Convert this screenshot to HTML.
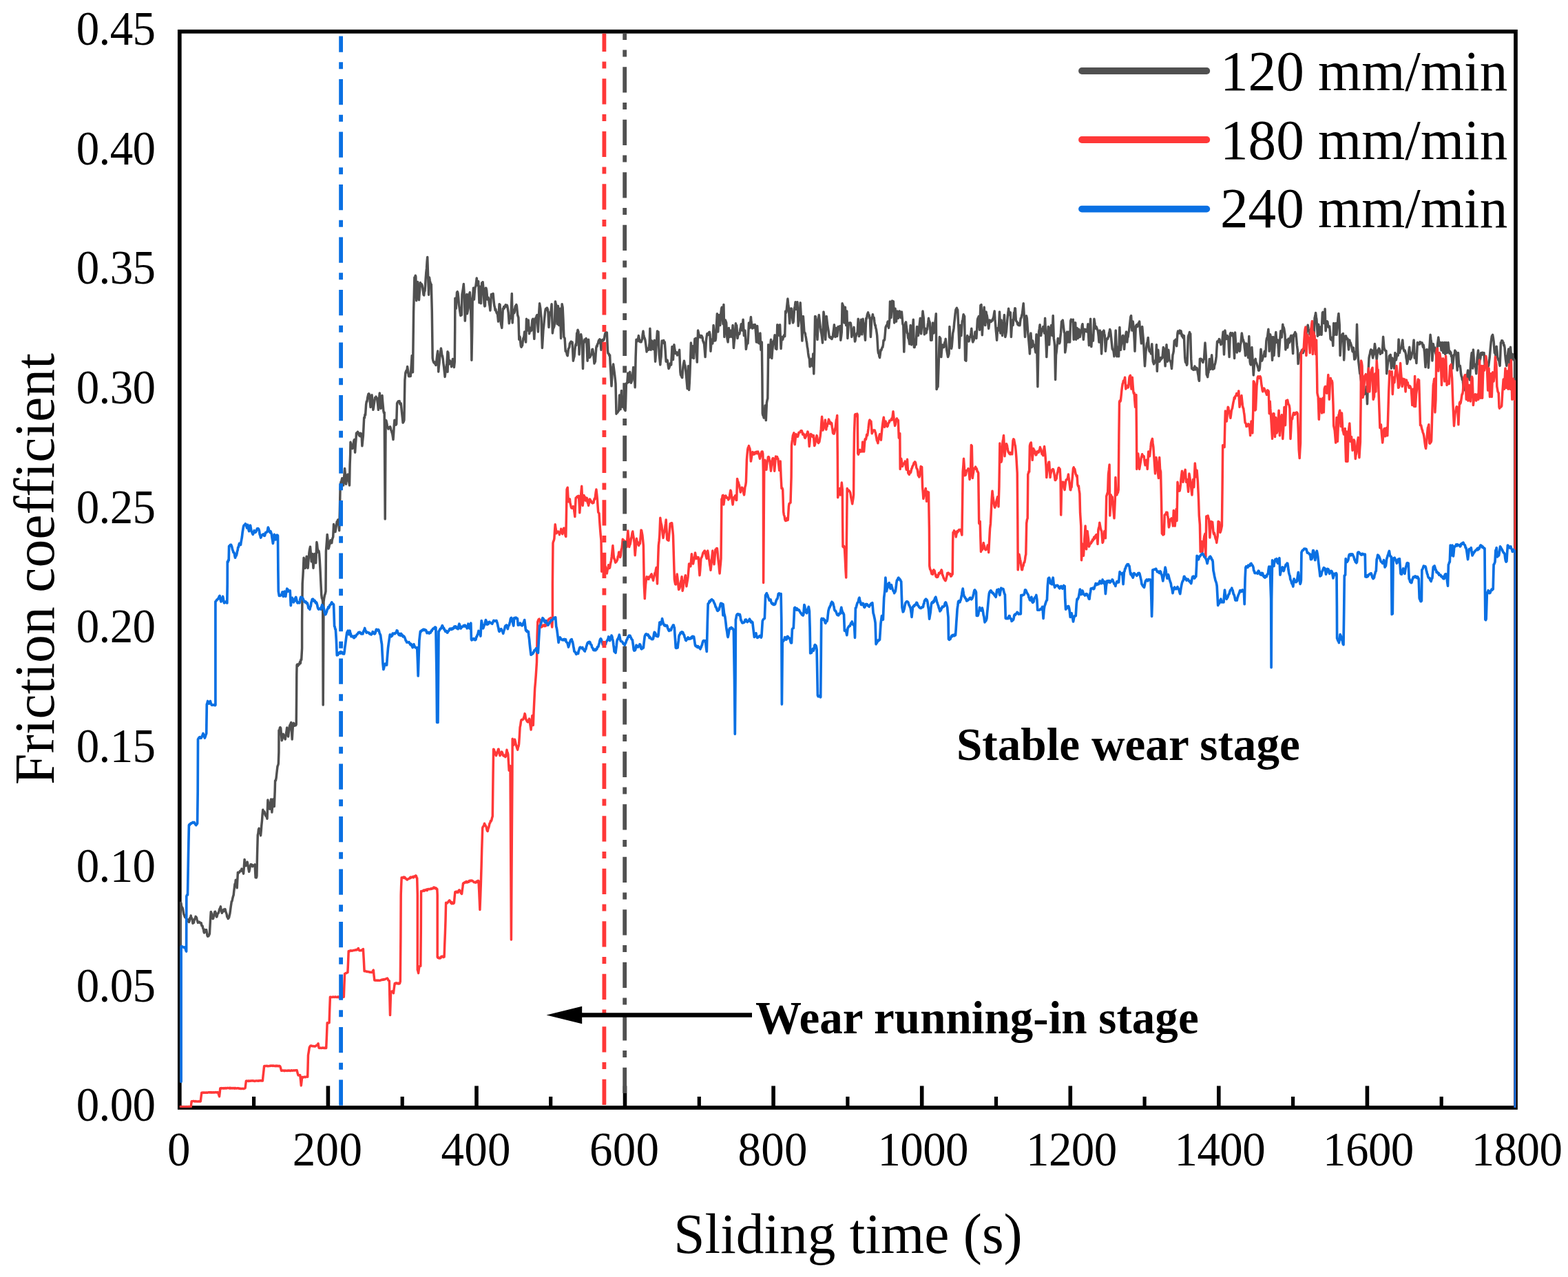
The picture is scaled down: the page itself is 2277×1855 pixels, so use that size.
<!DOCTYPE html>
<html lang="en"><head><meta charset="utf-8"><title>Friction coefficient vs sliding time</title>
<style>html,body{margin:0;padding:0;background:#fff}svg{display:block}text{font-family:"Liberation Serif","Times New Roman",serif;fill:#000}</style></head><body>
<svg width="2277" height="1855" viewBox="0 0 2277 1855">
<rect x="0" y="0" width="2277" height="1855" fill="#ffffff"/>
<defs><clipPath id="plotclip"><rect x="260.8" y="45.8" width="1940.5" height="1563.2"/></clipPath></defs>
<line x1="368.6" y1="1593" x2="368.6" y2="1609" stroke="#000" stroke-width="5.2"/>
<line x1="476.4" y1="1577.4" x2="476.4" y2="1609" stroke="#000" stroke-width="5.6"/>
<line x1="584.2" y1="1593" x2="584.2" y2="1609" stroke="#000" stroke-width="5.2"/>
<line x1="692.0" y1="1577.4" x2="692.0" y2="1609" stroke="#000" stroke-width="5.6"/>
<line x1="799.7" y1="1593" x2="799.7" y2="1609" stroke="#000" stroke-width="5.2"/>
<line x1="907.5" y1="1577.4" x2="907.5" y2="1609" stroke="#000" stroke-width="5.6"/>
<line x1="1015.3" y1="1593" x2="1015.3" y2="1609" stroke="#000" stroke-width="5.2"/>
<line x1="1123.1" y1="1577.4" x2="1123.1" y2="1609" stroke="#000" stroke-width="5.6"/>
<line x1="1230.9" y1="1593" x2="1230.9" y2="1609" stroke="#000" stroke-width="5.2"/>
<line x1="1338.7" y1="1577.4" x2="1338.7" y2="1609" stroke="#000" stroke-width="5.6"/>
<line x1="1446.5" y1="1593" x2="1446.5" y2="1609" stroke="#000" stroke-width="5.2"/>
<line x1="1554.3" y1="1577.4" x2="1554.3" y2="1609" stroke="#000" stroke-width="5.6"/>
<line x1="1662.1" y1="1593" x2="1662.1" y2="1609" stroke="#000" stroke-width="5.2"/>
<line x1="1769.8" y1="1577.4" x2="1769.8" y2="1609" stroke="#000" stroke-width="5.6"/>
<line x1="1877.6" y1="1593" x2="1877.6" y2="1609" stroke="#000" stroke-width="5.2"/>
<line x1="1985.4" y1="1577.4" x2="1985.4" y2="1609" stroke="#000" stroke-width="5.6"/>
<line x1="2093.2" y1="1593" x2="2093.2" y2="1609" stroke="#000" stroke-width="5.2"/>
<rect x="260.8" y="45.8" width="1940.2" height="1563.2" fill="none" stroke="#000" stroke-width="5.7"/>
<path clip-path="url(#plotclip)" d="M262.2,1571.2 262.2,1311.3 262.9,1311.7 263.6,1316.4 264.3,1317.9 265,1318.8 265.6,1320.9 266.3,1325 266.9,1328.2 267.5,1329 268.1,1331 268.8,1332.6 269.4,1330.9 270,1331.7 270.6,1334.7 271.3,1336.9 271.9,1336 272.5,1338.1 273.2,1335.9 273.8,1338.4 274.4,1339.4 275.1,1338 275.8,1333.6 276.5,1334.2 277.2,1330 277.9,1334.5 278.6,1333.8 279.3,1336.6 280,1341.3 280.7,1340.1 281.4,1340.4 282,1336.8 282.7,1334.8 283.4,1334.3 284.1,1331.4 284.7,1331.9 285.4,1332.9 286.1,1335.9 286.8,1338.2 287.5,1340.4 288.2,1339.3 288.9,1339.3 289.7,1339.2 290.4,1340.4 291,1341 291.6,1341.1 292.2,1340.8 292.9,1344.8 293.5,1344.5 294.1,1345 294.7,1348.4 295.4,1349.4 296,1353.5 296.6,1355 297.2,1354 297.9,1350.6 298.5,1350.9 299.1,1352 299.7,1350.7 300.4,1354.7 301,1358.9 301.6,1360.1 302.3,1358.8 303,1359.6 303.7,1358 304.4,1356.3 305.4,1337.5 306.3,1324.4 307,1326.1 307.7,1329.9 308.4,1333.8 309.1,1334.7 309.8,1333.7 310.5,1329.6 311.2,1327.4 311.9,1324.4 312.6,1324.2 313.4,1327 314.1,1331.3 314.8,1331.9 315.4,1329.9 316,1327.1 316.6,1327.1 317.3,1326.1 317.9,1324.3 318.5,1321.3 319.1,1320 319.8,1318.6 320.4,1316.9 321,1321.2 321.6,1323.2 322.3,1326.3 322.9,1325 323.6,1324.6 324.3,1321.8 324.9,1321.1 325.6,1323.2 326.3,1323.6 327,1320.6 327.7,1323.9 328.4,1325.8 329.1,1327.6 329.8,1331.9 330.5,1332.2 331.2,1334.5 331.9,1333.8 332.6,1332.8 333.2,1329.6 333.8,1327.6 334.5,1322.5 335.1,1317.7 335.7,1313.8 336.3,1309.4 337,1309 337.8,1305 338.5,1302.2 339.2,1300 339.2,1300 339.8,1294.3 340.4,1289.5 341,1284.1 341.7,1284.2 342.3,1278.2 342.9,1278.5 343.6,1284.6 344.2,1289.7 345.4,1267.2 346,1268.2 346.6,1268.1 347.3,1267.1 347.9,1267 348.5,1265.3 349.2,1265.1 349.8,1265 350.4,1264 351,1262.1 351.7,1265.4 352.3,1263.4 353,1266.6 353.6,1269.1 354.4,1258.2 355.1,1248.4 355.7,1251.6 356.4,1254.6 357,1257.8 357.7,1255.3 358.5,1253.4 359.2,1252.2 360.1,1257 360.9,1262.1 361.7,1266.3 362.3,1263.9 362.9,1260.4 363.6,1257.8 364.2,1255.6 364.8,1256.3 365.4,1255.9 366.1,1257.5 366.7,1258.6 367.3,1256.9 368,1257.9 368.7,1257.7 369.4,1257.6 370.1,1255.9 371.1,1274.7 371.7,1273 372.3,1274.9 372.9,1272.8 373.5,1242.8 374.3,1212.8 374.9,1210.4 375.5,1204.7 376.1,1203.4 377,1204.7 377.8,1208.1 378.6,1213.7 379.2,1206.9 379.8,1198.9 380.5,1192.1 381.1,1183.4 381.8,1176.2 382.4,1178.2 383.1,1178.5 383.8,1178.8 384.5,1180.7 385.1,1183.7 385.9,1185.2 386.6,1185 387.3,1186.9 388,1189.3 388.9,1162.1 389.6,1166.3 390.3,1168.4 391,1171.1 391.7,1175.2 392.3,1170.5 393,1165 393.6,1161.1 394.3,1170.3 394.9,1179.9 395.7,1170.4 396.4,1161.1 397,1163.2 397.7,1166.3 398.3,1171.5 399.2,1148.9 399.6,1133.9 400.4,1133.8 401.1,1130.2 401.7,1124.6 402.4,1118.4 403,1113.3 403.6,1111.9 404.3,1109.5 404.9,1092.6 405,1060.7 405.7,1061.4 406.4,1057.2 407,1056.5 407.7,1057.9 408.4,1066.2 409.2,1075.7 409.9,1073.6 410.7,1068 411.4,1066.3 412.1,1069.1 412.8,1070.9 413.5,1072.2 414.2,1073.9 415.1,1067.7 415.9,1063.4 416.7,1057 417.3,1061.9 417.9,1065.7 418.6,1070.1 419.2,1064.6 419.8,1060.3 420.4,1055.1 421.2,1052.7 421.9,1051.7 422.7,1049.5 423.4,1061.3 424.2,1073.9 424.8,1063.3 425.5,1052.3 426.2,1050.3 426.8,1051.4 427.5,1054.3 428.2,1053.9 428.9,1051.4 429.5,1053.8 430.2,1052.3 430.6,1010 430.8,980 430.8,980 431.1,966 431.8,965 432.4,967.6 433,966.6 433.6,965 434.3,964.1 434.9,965 435.6,961.2 436.3,963.4 437,958.1 437.7,958.5 438.6,941.6 438.6,904 439.2,847.7 439.9,837 440.5,825.2 441.1,810.2 441.8,816 442.6,820.3 443.3,825.2 444,819 444.6,814.6 445.2,808.3 445.8,814.8 446.5,819.9 447.1,825.2 447.7,817.7 448.3,809.9 449,802.7 449.7,797.8 450.5,794.2 451.1,800.9 451.7,808.9 452.3,815.8 453,810 453.7,804.5 454.3,814.3 455,825.2 455.6,817.6 456.2,811.7 456.9,804.5 457.5,808.6 458.1,813.3 458.7,817.7 459.9,787.6 460.5,790.6 461.1,796.8 461.7,798.9 462.4,802.5 463,800.5 463.6,804.5 464.3,814.3 464.9,825.2 465.5,838 466.2,852.3 466.8,864.6 467.4,869 468.1,870.1 468.7,874 469.2,1024.1 470,874 470.7,868.8 471.5,864.6 472.2,862.6 473,859 473.4,800.8 474,793.2 474.6,785.3 475.2,776.4 475.9,783 476.5,790.8 477.1,797 477.8,794.8 478.5,790.9 479.2,790 479.9,784.8 480.6,784.9 481.2,788.3 481.8,788.6 482.4,783.9 483.1,781.5 483.7,780.1 484.6,761.4 485.4,766.9 486.1,767.6 486.9,772.6 487.7,768.1 488.5,762.8 489.3,757.6 489.9,758.2 490.6,755.1 491.2,754.8 492,762.5 492.7,770.7 493.4,741.3 494,712.6 495,700.4 495.6,700.1 496.2,697.1 496.8,694.7 497.5,700.2 498.1,703.3 498.7,705 499.3,696.3 500,688.9 500.6,680.6 501.2,687.5 501.8,694.9 502.5,703.2 503.3,696.6 504.1,695.4 504.9,689.1 505.6,693.6 506.2,697.6 506.9,700.8 507.5,705 508.1,675 508.7,660 508.7,659.1 509,642.2 509.7,645.1 510.4,648.1 511.1,648.7 511.8,651.6 512.6,648.6 513.3,643.8 514,639.9 514.7,638.5 515.6,657.2 516.2,647.4 516.9,639.1 517.5,629.1 518.1,628.7 518.7,629.7 519.4,627.2 520.1,628.4 520.8,629 521.5,632.7 522.2,632.8 522.9,633.6 523.6,629.3 524.3,631.5 525,630 525.9,647.8 526.7,639.6 527.4,632.8 528.1,619 528.7,606.5 529.4,607 530,602 530.6,602.8 531.6,587.8 532.3,583.3 533,583.3 533.7,577.6 534.4,574.6 535,572.3 535.6,571.9 536.3,572.8 536.9,578.6 537.5,585.7 538.1,591.5 538.8,584.9 539.4,580.4 540,573.7 540.6,580.7 541.3,588.9 541.9,595.3 542.6,591.5 543.3,586 544,581.5 544.7,577.4 545.4,577.6 546.1,576.2 546.8,578.8 547.5,578.4 548.1,583.2 548.8,588.8 549.4,595.3 550,588 550.6,578.7 551.3,570.9 551.9,578.6 552.5,585.8 553.1,593.4 553.8,586.8 554.4,580.1 555,574.6 555.6,582.9 556.3,590.5 556.9,597.2 557.6,600.2 558.2,599 559.2,753.9 560.1,610.3 560.9,611.1 561.7,614.8 562.5,619.7 563.2,620.7 563.9,623.1 564.5,620.7 565.2,621.9 565.9,622 566.6,619.8 567.2,621.6 567.8,624.6 568.5,626 569.1,628.5 569.7,630.3 570.4,634.3 571,638.5 571.6,630.2 572.2,619.6 572.9,610.3 573.6,612.6 574.3,614 575,617.2 575.7,615.9 576.6,585.9 577.3,584.5 578,583.3 578.7,582.7 579.4,583.1 580.1,582.7 580.8,586.6 581.5,587.6 582.2,585.9 582.9,592.5 583.6,599.6 584.4,607.1 585.1,614 585.7,613.3 586.3,612.1 586.9,610.3 587.9,552.1 588.8,541.8 589.4,539.9 590.1,538.3 590.7,540.8 591.6,532.4 592.2,536.5 592.9,540.8 593.5,546.5 594.2,546.8 594.9,543.9 595.6,543.9 596.3,546.5 596.9,536.8 597.6,526 598.2,516.4 598.9,529.3 599.5,540.8 600.6,452.6 601.3,427.7 601.9,402.9 602.6,404.7 603.2,400.2 603.8,401.9 604.8,436.7 605.4,427.6 606,419.2 606.6,409.5 607.3,417.2 607.9,428 608.5,435.7 609.1,426.5 609.8,419.5 610.4,410.4 611.1,414.5 611.8,414.7 612.5,412.8 613.2,415.1 613.8,418.5 614.5,423.9 615.1,428.2 615.7,428.9 616.3,423.2 617,422.6 617.6,414.8 618.2,404.2 618.8,396.3 619.5,389.7 620.1,379.9 620.7,373.4 621.3,391.2 622,410.9 622.6,428.2 623.5,402.9 624.2,407.3 624.9,410.5 625.6,412.7 626.3,413.2 627.3,452.6 628.2,520.2 628.9,523.9 629.5,525.7 630.1,526.8 630.8,525.8 631.5,528.2 632.2,527.5 632.9,530.5 633.6,525.9 634.3,520.6 635,514.4 635.7,509.9 636.7,539.9 637.3,532.3 637.9,527.9 638.5,520.2 639.2,516.2 639.8,510.9 640.4,506.1 641.1,510.1 641.8,515.7 642.5,517.1 643.2,521.1 643.9,527.5 644.7,533.9 645.4,540.3 646.1,547.4 646.8,541.3 647.5,537.9 648.2,532.4 648.9,527.7 650,510.8 650,540.2 650.9,512 651.9,528.9 652.5,528.1 653.1,523.8 653.8,525.2 654.4,526.8 655,528 655.6,532.7 656.3,528 656.9,524.6 657.5,521.4 658.1,526.3 658.8,529.3 659.4,533.6 660.3,525.2 660.7,478.3 660.9,433.2 661.5,440.5 662.2,448.2 662.9,436.8 663.5,424.8 664.3,423.6 665,425.7 665.8,433 666.5,442.6 667.2,447.4 667.8,452 668.8,458.5 669.5,458.1 670.3,457.6 671,427.6 672.1,421.9 673.3,412.6 674.4,431.3 675.3,466.1 676,452.8 676.7,438.8 677.8,427.6 678.5,455.7 679.3,451.6 680,448.2 681,427.6 681.6,427.3 682.3,424.8 683.4,438.8 684.4,480.1 684.9,523.3 685.7,480.1 686.2,437 686.9,428.1 687.5,418.2 688.5,435.1 689.1,426 689.8,418.2 690.9,415.4 691.6,409.7 692.2,404.1 692.9,409.2 693.5,414.4 694.7,408.8 695.3,423.6 696,439.8 696.9,416.3 697.7,428.3 698.4,440.7 699.1,425.8 699.7,410.7 700.4,412.7 701.1,409.7 702.2,421.9 703.1,440.7 703.8,445.1 704.4,444.5 705.4,418.2 706,418.7 706.7,421.9 707.8,435.1 708.5,434.6 709.1,432.3 709.8,435.4 710.4,440.7 711.2,444.8 711.9,451 712.7,439.3 713.4,427.6 714.1,431.7 714.8,431.3 715.4,426.9 716.1,426.6 717.2,438.8 717.9,444.2 718.5,446.3 719.1,450.5 719.8,449 720.4,452 721,453.8 721.6,455.3 722.3,453.9 722.9,460.1 723.6,467 724.3,454.8 725.1,441.7 726,442.6 726.7,456.3 727.3,468.9 728.1,473.2 728.8,476.4 729.6,463.2 730.3,448.2 731,449.2 731.7,445.4 732.3,447.9 732.9,445.2 733.5,444.5 734.2,442.8 734.8,443.6 735.4,445.4 736.1,443.2 736.7,444.5 737.5,449.3 738.2,453.9 739.3,469.8 740.5,459.5 741.2,462.4 742,462.3 742.6,443.4 743.3,426.6 744.2,468.9 745.4,450.1 746,453.5 746.7,454.8 747.3,452.7 747.9,447 748.5,444.5 749.2,444.6 749.8,442.5 750.4,444.5 751.1,451.6 751.7,457.6 752.9,461.4 753.8,493.3 754.5,488.6 755.1,489.5 755.8,497.2 756.4,502.7 757.1,504.2 757.8,502.8 758.5,501.7 759.2,496 759.8,491.4 760.4,490.7 761.1,487.9 761.7,482 762.3,486.1 762.9,492.7 763.6,497 764.5,463.2 765.3,472.5 766,480.1 766.7,473 767.3,465.1 768,475.5 768.6,484.8 769.4,480.3 770.1,476.4 770.9,480.8 771.6,480.1 772.3,473.8 772.9,465.1 773.6,463.5 774.3,463.2 775,478.5 775.8,492.3 776.5,478.6 777.3,465.1 777.9,461.7 778.6,462.3 779.2,458.9 779.9,457.6 780.6,468.9 781.4,482 782.5,457.6 783.6,440.7 784.8,448.2 785.4,455.8 786.1,461.4 786.7,484.5 787.4,505.5 788.2,491.9 788.9,480.1 789.7,472.9 790.4,465.1 791.1,458.3 791.7,452 792.4,448.7 793,450.1 793.8,447.5 794.5,447.3 795.3,449.1 796,453.9 797,475.4 797.6,466.2 798.3,455.7 798.9,453.7 799.6,457.6 800.4,448.9 801.1,441.7 801.8,462.6 802.4,483.9 803.2,477.3 803.9,476.4 804.7,474.3 805.4,470.7 806.4,437.9 807,440.9 807.7,442.6 808.4,457.5 809.2,470.7 809.8,456.9 810.5,444.5 811.1,458 811.8,472.6 812.6,460.5 813.3,448.2 814,469.3 814.6,491.4 815.4,466.7 816.1,441.7 817.1,446.3 818,465.1 818.9,489.5 820.1,491.4 821.2,510.2 821.9,509.6 822.7,512 823.4,515.5 824.2,516.7 824.8,512.3 825.5,506.4 826.1,505.8 826.8,504.2 827.4,498.9 828,498.2 828.6,497 829.3,496.1 829.9,498.5 830.5,498.3 831.1,497 831.8,510.8 832.4,524.2 833.2,520.3 834,517.7 834.7,509.6 835.5,502.7 836.1,499.8 836.8,501.7 837.7,483.9 838.4,483.4 839,479.2 840,482 841.1,514.9 841.7,501.3 842.4,489.5 843.1,489.1 843.7,485.8 844.5,490.6 845.2,495.1 845.9,516.4 846.5,535.5 847.5,498.9 848.2,497.7 849,493.3 849.7,495.6 850.5,492.3 851.1,491.6 851.8,495.1 852.4,509.7 853.1,524.2 853.8,508.9 854.6,493.3 855.3,506 855.9,519.5 856.7,518.6 857.4,517.7 858,515.6 858.7,515.3 859.3,513.9 859.9,507.6 860.6,507.3 861.7,513.9 862.4,520.8 863,528 863.7,526.3 864.4,525.2 865.1,514.4 865.9,504.5 866.5,502.4 867.1,503.1 867.7,499.8 868.4,499.1 869,496 869.6,494.2 870.2,494.8 870.9,492.8 871.5,493.3 872.2,500.1 873,508.3 873.7,500.5 874.3,495.1 874.9,493.5 875.6,495.1 876.2,494.2 876.9,493.9 877.6,491 878.3,486.5 879,483.9 879.8,486.5 880.5,483 881.3,482.9 882.4,508.3 883,513.1 883.7,513.9 884.3,514 884.9,516.6 885.6,515.8 886.2,529.2 886.9,540.2 888,560.8 888.7,549.1 889.3,538.3 890,532.8 890.6,528.9 891.4,534.9 892.1,540.2 892.8,545.9 893.4,551.1 894,557.1 895,601.2 895.6,597.6 896.2,599.3 896.8,599.3 897.5,597.9 898.1,596.9 898.7,596.5 899.6,574 900.3,585.2 901,594.6 901.7,581.2 902.5,567.4 903.1,579.7 903.8,590.9 904.5,584.3 905.3,575.9 906,585.8 906.8,594.6 907.4,595.5 908.1,596.5 908.8,577.4 909.4,557.1 910.2,557 910.9,555.2 911.8,542.1 912.5,549 913.2,555.2 913.9,548 914.7,540.2 915.3,545.3 915.9,551.1 916.5,556.2 917.2,554.1 917.8,553.1 918.4,547.7 919.1,541.3 919.7,533.6 920.5,539.6 921.2,544 922.2,562.7 923.1,519.5 924,493.3 924.7,495.2 925.3,495.8 925.9,494.2 926.7,491.6 927.4,487.6 928.1,491.5 928.7,496.1 929.4,494.4 930,496.7 930.6,495.1 931.2,496.8 931.9,494.2 932.5,493.3 933.2,486.3 934,481.1 934.7,486.1 935.3,489.5 936.1,491.3 936.8,493.3 937.5,497.9 938.1,502.7 939.1,511.1 939.8,506 940.6,506.4 941.2,507.4 941.9,508.3 942.5,503.7 943.2,498 943.9,477.3 945.1,508.3 945.8,501.5 946.6,495.1 947.2,498.9 947.8,503.7 948.5,507.3 949.1,501.8 949.7,498.6 950.3,494.2 951,510.8 951.6,525.2 952.4,514.4 953.1,502.7 953.8,491.6 954.5,481.1 955.2,482.7 956,482 956.6,499.2 957.3,515.8 958,522.1 958.8,529.9 959.4,523.1 960.1,517.7 961.2,495.1 961.8,498.1 962.5,495 963.1,497 963.8,494.5 964.6,499 965.3,497 966,506.5 966.6,515.5 967.2,525.2 967.8,524.6 968.5,525.3 969.1,523.3 969.7,526.6 970.4,531.8 971,535.5 971.6,534.6 972.2,533 972.9,528.9 973.5,527.9 974.1,530.2 974.7,529.9 975.4,516.1 976,503.6 976.8,513.1 977.5,522.4 978.2,510.8 978.9,500.8 979.6,506.2 980.4,510.2 981,513.6 981.6,511.6 982.2,513.9 982.9,511.9 983.5,516.1 984.1,513 984.9,512.7 985.7,511.9 986.6,508.3 987.2,523.1 987.9,540.2 988.5,544.9 989.2,544.9 989.9,547.5 990.7,548.6 991.3,540.2 992,532.7 992.7,528.1 993.5,524.2 994.3,529.1 995,530.8 995.7,538.1 996.3,544 996.9,550.1 997.6,558 998.2,564.6 998.9,547.4 999.5,531.8 1000.6,566.5 1001.3,555.4 1001.9,542.1 1002.7,519.9 1003.4,498 1004.1,509.7 1004.8,519.5 1005.4,511.7 1006.1,502.7 1006.8,511.8 1007.6,520.5 1008.2,505.8 1008.9,492.3 1009.6,492 1010.4,491.4 1011,502.1 1011.6,513.7 1012.3,526.1 1012.9,503.6 1013.6,480.1 1014.3,483.1 1015.1,487.6 1015.7,489.8 1016.3,487.3 1017,489.5 1017.6,490.2 1018.2,489.6 1018.8,487.6 1019.5,489 1020.1,490.3 1020.7,495.1 1021.3,496.1 1022,498.2 1022.6,499.8 1023.3,508.3 1024.1,518.6 1024.8,506.1 1025.4,495.1 1026.2,488.9 1026.9,484.8 1027.5,485.1 1028.2,486.5 1028.8,483.9 1029.5,482.8 1030.3,482.3 1031,485.8 1032,510.2 1032.6,502.2 1033.3,493.3 1034,498 1034.8,498.9 1035.5,486.9 1036.1,472.6 1036.9,484.2 1037.6,495.1 1038.2,493 1038.9,494.7 1039.5,491.4 1040.1,478.6 1040.7,468.1 1041.4,455.7 1042,467.9 1042.7,482 1043.4,469.6 1044.2,457.6 1044.9,465.1 1045.7,472.6 1046.3,462.9 1047,453.9 1047.7,448.1 1048.3,446.3 1049.2,457.9 1050,470.7 1050,470.7 1050.9,442.6 1051.9,489.5 1052.6,478.1 1053.4,465.1 1054,466.8 1054.7,468.9 1055.3,480.3 1056,491.4 1057.1,497 1057.8,486 1058.4,476.4 1059.1,483.5 1059.8,489.5 1060.5,484.4 1061.3,480.1 1062,485 1062.8,489.5 1063.4,482.1 1064.1,472.6 1064.7,490.2 1065.4,505.5 1066.1,497.3 1066.9,491.4 1067.6,481.3 1068.4,469.8 1069.1,473.4 1069.7,472.6 1070.4,481.6 1071,491.4 1071.8,486.9 1072.5,483.9 1073.2,483.7 1073.8,485.1 1074.4,482 1075,478 1075.7,475.4 1076.3,470.7 1077,476.1 1077.8,480.1 1078.4,471.3 1079.1,464.2 1079.8,476.9 1080.4,487.6 1081.2,481 1081.9,480.1 1082.7,492.9 1083.4,507.3 1084.1,502.6 1084.7,497 1085.4,495.3 1086,498.9 1086.8,483.6 1087.5,468.9 1088.2,470.4 1088.9,476.4 1089.6,468.3 1090.4,460.4 1091,467.3 1091.7,472.6 1092.4,476.9 1093.2,476.4 1093.8,472.7 1094.4,471.9 1095,473.6 1095.7,475.9 1096.3,471.4 1096.9,474.5 1097.7,485.2 1098.4,497 1099.1,484.4 1099.7,473.6 1100.4,484.8 1101.1,498 1101.8,495.6 1102.6,498.9 1103.2,491.7 1103.9,483.9 1105,508.3 1105.7,503.2 1106.3,497 1106.9,547.7 1107.3,600.3 1107.9,603.3 1108.6,604 1109.3,607 1110.1,605.9 1111,589 1111.7,600.2 1112.3,610.6 1113.4,585.2 1114.1,581.3 1114.8,578.7 1115.3,540.2 1115.7,500.8 1116.4,510.5 1117.2,519.5 1117.9,513.2 1118.5,504.5 1119.5,493.3 1120.1,507.2 1120.8,520.5 1121.5,511 1122.3,502.7 1122.9,496.3 1123.6,495.1 1124.3,493.5 1125.1,486.7 1125.7,496.8 1126.4,506.4 1127.1,506 1127.9,507.3 1128.8,471.7 1129.6,472.8 1130.3,472.6 1131,480.3 1131.7,487.6 1132.6,471.7 1133.3,489.1 1134.1,506.4 1134.7,496.9 1135.4,489.5 1136.1,490.5 1136.7,493.3 1137.5,489.9 1138.2,487.6 1139,486.3 1139.7,488.6 1140.7,452 1141.3,454.7 1142,452.9 1142.6,446.5 1143.2,440.8 1143.9,434.1 1144.6,441.2 1145.4,447.3 1146,459.1 1146.7,469.8 1147.3,459.5 1148,448.2 1148.7,449.7 1149.5,448.2 1150.2,456.1 1151,465.1 1151.6,468.9 1152.3,467 1153,456.8 1153.6,448.2 1154.4,444.5 1155.1,438.8 1155.8,444.8 1156.4,449.2 1157.2,444.8 1157.9,438.8 1158.6,455.1 1159.2,473.6 1160,466.5 1160.7,461.4 1161.5,451.3 1162.2,439.8 1162.9,452.4 1163.6,465.1 1164.2,479.8 1164.9,495.1 1165.6,478.5 1166.4,459.5 1167.1,469.6 1167.9,482 1168.5,483.1 1169.2,483.9 1169.8,487.5 1170.4,490.5 1171.1,495.1 1171.7,498.3 1172.3,503.9 1172.9,506.4 1173.6,513 1174.3,517.7 1175.4,521.4 1176.1,532.7 1177.3,528.9 1177.9,522.3 1178.6,521.4 1179.2,526.6 1179.9,531.8 1180.8,513.9 1181.8,543 1182.7,510.2 1183.6,459.5 1184.4,459.8 1185.1,465.1 1185.8,475.2 1186.4,482.9 1187,493.3 1187.7,478.1 1188.3,465.1 1189.3,457.6 1190,463.9 1190.8,470.7 1191.5,476.9 1192.3,482 1192.9,484.6 1193.6,489.5 1194.5,498 1195.3,474.6 1196,452.9 1196.7,458.3 1197.3,462.3 1198,478.5 1198.7,493.3 1199.4,477.2 1200.2,459.5 1200.9,465.6 1201.7,472.6 1202.3,475.9 1203,480.1 1203.6,484.2 1204.3,489.5 1205.1,490.5 1205.9,489.7 1206.7,491.4 1207.4,490.1 1208,492.5 1208.6,490.5 1209.2,489.8 1209.9,484.1 1210.5,480.1 1211.4,471.7 1212.2,479.7 1212.9,489.5 1213.6,483.3 1214.2,476.4 1214.9,482.4 1215.6,488.6 1216.3,482.7 1217.1,474.5 1217.7,475.8 1218.3,476.5 1218.9,474.5 1219.9,473.6 1220.8,494.2 1221.6,488.6 1222.3,482 1223.1,440.7 1223.8,442.8 1224.6,444.5 1225.3,457.6 1226.1,468.9 1226.7,458.4 1227.4,446.3 1228,459 1228.7,472.6 1229.8,452 1230.9,491.4 1232.1,472.6 1232.7,469.3 1233.3,469.3 1234,468.9 1234.6,470.2 1235.2,469 1235.8,472.6 1236.8,489.5 1237.4,486.7 1238,486.2 1238.6,483.9 1239.3,478.6 1240,475.4 1240.7,486.5 1241.5,496.1 1242.1,494.2 1242.7,489.3 1243.3,487.6 1244,484.9 1244.6,483.6 1245.2,482.9 1246.2,463.2 1246.8,475.5 1247.5,488.6 1248.2,486.8 1249,482 1249.6,473.1 1250.3,464.2 1251,475 1251.8,485.8 1252.4,473.7 1253.1,463.2 1253.8,468.9 1254.6,472.6 1255.2,479.4 1255.9,486.6 1256.5,494.2 1257.1,477.2 1257.8,462.3 1258.5,462.8 1259.3,457.6 1259.9,455.6 1260.6,453.9 1261.4,458.2 1262.1,457.6 1262.8,462.5 1263.4,462.3 1264.4,489.5 1265.1,476.6 1265.9,461.4 1266.6,460.9 1267.4,456.7 1268,460.8 1268.6,462.3 1269.2,461.4 1269.9,467.7 1270.6,472.6 1271.2,472.3 1271.8,476.5 1272.4,478.3 1273.1,483.1 1273.7,487.6 1274.9,508.3 1275.5,513.1 1276.2,512 1276.8,517.5 1277.5,519.5 1278.2,514.4 1279,508.3 1279.8,508.8 1280.5,506.4 1281.2,504.6 1281.8,504.5 1282.5,500.4 1283.1,494.2 1283.9,494.6 1284.6,493.3 1285.4,484.1 1286.1,475.4 1286.8,473.8 1287.4,472.6 1288.1,473.6 1288.7,469.1 1289.3,467 1290,470.9 1290.6,476.4 1291.8,465.1 1292.5,437.9 1293.3,448.8 1294,461.4 1294.8,449.6 1295.5,437 1296.1,437.6 1296.8,440 1297.4,437.9 1298.1,452.6 1298.7,468.9 1299.4,458.3 1300,448.2 1300.8,458.2 1301.5,467 1302.3,458.4 1303,452 1303.7,456.2 1304.3,462.3 1305,459.1 1305.6,454 1306.2,452 1306.8,452.7 1307.5,456.8 1308.1,461.4 1308.8,457.5 1309.4,452.9 1310.2,461.9 1310.9,470.7 1311.8,472.6 1312.8,511.1 1313.4,492.3 1314.1,475.4 1314.9,469.1 1315.6,467.9 1316.2,474.1 1316.9,478.9 1317.5,483.9 1318.1,484.4 1318.7,491.1 1319.4,491.4 1320,494.5 1320.7,499.8 1321.4,485.9 1322.2,472.6 1322.9,487.5 1323.7,500.8 1324.3,494.7 1325,487.6 1325.6,475.4 1326.3,464.2 1327.4,504.5 1328.1,504.5 1328.7,499.8 1329.4,500.9 1330.1,500.8 1330.8,488.5 1331.6,474.5 1332.2,479.8 1332.8,483.1 1333.4,487.6 1334.2,481.5 1334.9,474.5 1335.6,468.5 1336.3,462.3 1336.9,474.6 1337.6,484.8 1338.7,472.6 1339.3,463 1340,452 1340.7,457.7 1341.3,462.3 1342.4,485.8 1343.1,482.3 1343.8,477.3 1344.4,483.6 1345.1,483.9 1345.8,479.6 1346.6,478.3 1347.2,472.2 1347.8,468.2 1348.5,462.3 1349.1,466.1 1349.7,466.8 1350.3,468.9 1351,481.5 1351.6,494.2 1352.4,493.6 1353.1,494.2 1353.8,482.5 1354.5,468.9 1355.2,477.1 1356,483.9 1356.6,479.1 1357.2,472.8 1357.8,468.9 1358.6,463.1 1359.3,455.7 1359.7,510.2 1360.1,565.5 1360.7,564 1361.3,561.2 1362,561.8 1363.1,528.9 1363.7,508.7 1364.4,489.5 1365.1,491.6 1365.7,491.4 1366.8,518.6 1367.5,509.4 1368.2,502.7 1368.8,501 1369.4,502.7 1370,504.5 1370.7,504.4 1371.3,501 1371.9,497 1372.6,497.5 1373.2,492.3 1374,500.4 1374.7,508.3 1375.4,512.2 1376,515.5 1376.6,518.6 1377.4,516.4 1378.1,513.9 1378.9,474.5 1379.6,489.1 1380.4,503.6 1381,505.5 1381.6,506.3 1382.2,503.6 1383,493.5 1383.7,483.9 1384.4,480.9 1385.1,476.4 1385.7,469.3 1386.4,463.2 1387.1,456.2 1387.9,450.1 1388.6,448.7 1389.4,447.3 1390,449.2 1390.7,450.1 1391.3,463.4 1392,476.4 1393.1,505.5 1393.8,490.2 1394.4,472.6 1395.2,479.3 1395.9,487.6 1396.6,477.2 1397.3,466.1 1397.9,465.9 1398.5,461.2 1399.1,456.7 1399.9,458.5 1400.6,459.5 1401.6,523.3 1402.2,523 1402.9,524.2 1403.8,497 1404.8,487.6 1405.5,490.8 1406.3,495.1 1406.9,495.9 1407.5,493.8 1408.1,489.5 1408.8,489.6 1409.5,487.6 1410.1,483.4 1410.8,477.3 1411.5,487.3 1412.3,495.1 1412.9,496.9 1413.5,493.8 1414.1,494.2 1414.8,490.1 1415.4,486.8 1416,482 1416.7,484.4 1417.3,489.8 1417.9,491.4 1418.7,478.2 1419.4,465.1 1420,462.3 1420.7,461.1 1421.3,459.5 1421.9,468.4 1422.6,479.2 1423.3,461 1423.9,443.5 1425,442.6 1425.7,464.4 1426.3,486.7 1427,473.3 1427.7,462.3 1428.4,453.5 1429.2,446.3 1429.9,458.9 1430.7,472.6 1431.3,463.6 1432,452.9 1432.6,456.6 1433.2,457.9 1433.9,462.3 1434.5,468.5 1435.1,471.7 1435.7,477.3 1436.4,471.2 1437,465.1 1437.8,467.5 1438.5,467 1439.2,467.5 1439.8,465.3 1440.4,465.1 1441.1,465.8 1441.7,463.2 1442.3,462.3 1442.9,460.2 1443.6,455.4 1444.2,452 1444.9,463.4 1445.7,472.6 1446.3,480.3 1446.9,486 1447.6,494.2 1448.2,484.4 1448.9,476.4 1450,480.1 1450,480.1 1450.8,467.6 1451.5,452.9 1452.2,467.7 1452.8,483.9 1453.5,473.4 1454.1,465.1 1454.9,475.8 1455.6,487.6 1456.4,480.1 1457.1,472.6 1457.8,466.2 1458.4,457.6 1459.1,473.3 1459.8,489.5 1460.5,487.1 1461.3,482 1462,474.4 1462.8,465.1 1463.4,458.5 1464,454.1 1464.6,448.2 1465.3,454.1 1466,457.6 1466.6,456 1467.3,453.9 1468.4,489.5 1469.1,477.4 1469.7,465.1 1470.4,467.9 1471,472.6 1471.8,464.3 1472.5,453.9 1473.2,454.8 1473.8,447.7 1474.4,448.2 1475.3,465.1 1476,466.7 1476.6,467.1 1477.2,468.9 1477.8,471.2 1478.5,469.1 1479.1,472.6 1479.7,471.2 1480.3,471.3 1481,472.6 1481.6,467.4 1482.3,462.3 1483,461.7 1483.8,457.6 1484.4,456 1485.1,450.1 1486.2,440.7 1487.2,457.6 1487.8,474.2 1488.5,489.5 1489.1,475.4 1489.8,460.4 1490.5,458.9 1491.3,462.3 1492,472.8 1492.8,483.9 1493.5,490.9 1494.1,497 1494.8,505 1495.4,513.9 1496.2,498.9 1496.9,483.9 1497.7,495.2 1498.4,504.5 1499.1,498.9 1499.7,495.1 1500.4,501 1501.1,502.7 1501.8,501.2 1502.6,504.5 1503.2,507.6 1503.9,512 1505,485.8 1505.9,510.2 1506.9,561.8 1507.8,510.2 1508.6,482 1509.3,477.8 1510.1,471.7 1510.8,478.9 1511.6,487.6 1512.2,484 1512.9,480.1 1513.5,477.8 1514.1,478.7 1514.8,474.5 1515.4,480.6 1516,479.5 1516.6,483.9 1517.6,462.3 1518.5,485.8 1519.2,502.2 1519.8,518.6 1521,491.4 1521.6,483.9 1522.3,474.5 1522.9,487.7 1523.6,500.8 1524.3,487.9 1525.1,476.4 1525.8,476.1 1526.6,472.6 1527.2,479.7 1527.9,487.6 1528.6,473.1 1529.2,458.5 1530.3,491.4 1531,495.8 1531.7,502.7 1532.6,551.5 1533.5,515.8 1534.2,511.3 1534.8,504.5 1535.6,498.3 1536.3,491.4 1537.1,495.8 1537.8,495.1 1538.5,498.9 1539.2,497 1539.8,489.9 1540.5,483.9 1541.6,467 1542.4,466.3 1543.3,465.1 1544,471.5 1544.8,478.3 1545.4,482.6 1546.1,483.9 1546.7,512 1547.3,508.2 1548,502.7 1548.7,491.7 1549.5,482 1550.2,489 1551,497 1551.6,490 1552.3,482 1553,489.3 1553.6,497 1554.7,466.1 1555.4,464.1 1556,464.9 1556.6,467 1557.5,465.9 1558.3,464.2 1559.2,493.3 1560.4,468.9 1561,469.5 1561.7,468.9 1562.6,493.3 1563.4,485.9 1564.1,476.4 1564.8,484 1565.4,491.4 1566.1,485.1 1566.8,478.3 1567.5,483 1568.3,489.5 1568.9,485.9 1569.5,481.9 1570.1,480.1 1570.8,478.2 1571.4,472.5 1572,470.7 1572.7,481.3 1573.3,493.3 1574.1,485.4 1574.8,478.3 1575.4,478.7 1576.1,478.5 1576.7,480.1 1577.3,481.4 1578,479.5 1578.6,482 1579.2,477.3 1579.9,470.7 1580.6,486.7 1581.4,501.7 1582.1,491.9 1582.7,482 1583.6,463.2 1584.8,503.6 1585.4,494.6 1586.1,487.6 1586.7,490.3 1587.4,495.1 1588.2,479.6 1588.9,463.2 1589.5,467.3 1590.2,471.5 1590.8,474.5 1591.4,477.5 1592,474.6 1592.7,476.4 1593.3,478.2 1593.9,479.1 1594.5,482 1595.3,488.6 1596,497 1596.7,487.7 1597.3,480.1 1598.3,483.9 1598.9,498.3 1599.6,513.9 1600.4,497 1601.1,482 1601.7,481.6 1602.4,482 1603,480.1 1603.6,484.3 1604.3,487.6 1605.4,510.2 1606.1,503.1 1606.7,495.1 1607.4,492.6 1608,491.5 1608.6,492.3 1609.2,489.9 1609.9,489 1610.5,483.9 1611.1,482.2 1611.7,478.4 1612.4,480.1 1613,484.6 1613.7,491.4 1614.4,498.4 1615.2,506.4 1615.9,508 1616.7,508.3 1617.3,512 1618,517.7 1618.7,509.5 1619.3,502.7 1620.2,480.1 1621,499.3 1621.8,517.7 1622.4,512.3 1623.1,504.5 1623.8,510.7 1624.6,517.7 1625.2,496.8 1625.9,475.4 1626.6,491.9 1627.4,508.3 1628,502.5 1628.7,498.9 1629.4,492.9 1630.2,487.6 1630.9,487.4 1631.7,491.4 1632.6,507.3 1633.3,497.8 1634,489.5 1634.7,487.4 1635.5,482 1636.1,490 1636.8,497 1637.4,490.5 1638.1,489.5 1638.8,483.8 1639.6,480.1 1640.3,474.1 1641.1,467 1641.8,460.4 1642.6,458.5 1643.2,468.9 1643.9,480.1 1644.6,473 1645.2,467 1646,474.4 1646.7,483.9 1647.4,495.9 1648,510.2 1648.7,491.5 1649.3,474.5 1650.1,472.5 1650.8,471.7 1651.5,474.6 1652.1,473.1 1652.7,472.6 1653.3,469.2 1654,469.9 1654.6,467 1655.3,475.8 1656.1,485.8 1656.8,492.4 1657.4,498.9 1658.1,486.3 1658.7,474.5 1659.5,484 1660.2,491.4 1661,504.2 1661.7,517.7 1662.5,531.8 1663.2,521.7 1664,510.2 1664.7,504.9 1665.5,498.9 1666.3,496.7 1667.2,490.5 1667.9,499.6 1668.7,508.3 1669.3,510.5 1670,508.3 1670.7,510.5 1671.5,513.9 1672.1,507.3 1672.8,499.8 1673.6,512.8 1674.3,525.2 1675,527.2 1675.6,528.9 1676.4,527.4 1677.1,525.2 1677.9,523.5 1678.6,521.4 1679.4,500.8 1680.3,539.3 1681.1,523.5 1681.8,508.3 1682.5,517.7 1683.1,525.2 1683.9,525 1684.6,523.3 1685.3,523 1685.9,519.4 1686.5,521.4 1687.3,520.5 1688,519.5 1688.7,511.3 1689.3,504.5 1690,505.6 1690.6,510.2 1691.4,520.8 1692.1,531.8 1692.8,521.5 1693.4,510.5 1694,500.8 1694.7,512.4 1695.3,525.2 1696.1,516.8 1696.8,508.3 1697.5,515.7 1698.1,523.3 1698.9,523.7 1699.6,525.2 1700.3,526.2 1700.9,531.3 1701.5,535.5 1702.3,526 1703,515.8 1703.7,513.2 1704.3,510.2 1705.3,495.1 1705.9,494.8 1706.5,496 1707.2,493.3 1707.9,498.5 1708.7,502.7 1709.3,493.7 1710,483.9 1710.6,481.1 1711.2,482.7 1711.8,483.9 1712.5,484 1713.1,479.9 1713.7,481.1 1714.4,484.5 1715,480.8 1715.6,483.9 1716.2,488 1716.9,485.9 1717.5,489.5 1718.1,490.9 1718.7,490.4 1719.4,487.6 1720,503.2 1720.7,519.5 1721.4,525.6 1722.2,527.1 1722.8,525.6 1723.4,530.4 1724,528.9 1724.7,508.9 1725.4,489.5 1726.1,486.8 1726.9,484.8 1727.5,482.5 1728.1,485.4 1728.7,484.8 1729.7,521.4 1730.6,535.5 1731.2,534.1 1731.9,536.5 1732.5,535.5 1733.1,537.3 1733.7,536.1 1734.4,535.5 1735,531.9 1735.6,537 1736.3,533.6 1736.9,536.5 1737.5,535.1 1738.1,534.6 1738.8,537.3 1739.4,541.8 1740,544.9 1740.8,551.4 1741.5,553.3 1742.4,521.4 1743.1,521.2 1743.7,523.1 1744.3,521.4 1744.9,523.3 1745.6,523.5 1746.2,525.2 1746.9,526.5 1747.7,522.1 1748.5,521.4 1749.2,509.9 1750,498 1750.6,506.7 1751.3,517.7 1752.2,544 1753,545.7 1753.7,547.7 1754.4,541.6 1755,541.1 1755.7,531.8 1756.3,521.4 1757.1,527.7 1757.8,536.4 1758.5,528.5 1759.1,521.7 1759.7,515.8 1760.5,525.3 1761.2,536.4 1761.8,536.2 1762.5,535 1763.1,535.5 1763.7,530.8 1764.4,528.9 1765,526.3 1765.7,522.4 1766.3,517.7 1766.9,507.3 1767.6,496.1 1768.3,497.4 1769.1,495.1 1769.7,496.4 1770.4,492.4 1771,493.3 1771.6,497.6 1772.2,496.7 1772.9,500.8 1773.5,499.9 1774.1,497.4 1774.7,497 1775.5,488.7 1776.2,482 1776.9,499.1 1777.5,514.9 1778.2,498.5 1778.9,480.1 1779.6,485.3 1780.4,491.4 1781,492.4 1781.6,488 1782.2,487.6 1783,489.5 1783.7,489.5 1784.4,505.3 1785.1,518.6 1785.7,502.4 1786.4,484.8 1787.1,483.6 1787.9,487.6 1788.5,486 1789.1,484.4 1789.7,483.9 1790.5,486.4 1791.2,491.4 1791.9,506.7 1792.6,520.5 1793.5,482.9 1794.3,494.5 1795,506.4 1795.7,510.4 1796.3,512 1796.9,508 1797.6,503.3 1798.2,498.9 1798.8,501.6 1799.4,506.8 1800.1,510.2 1800.7,508.8 1801.3,500.7 1801.9,498.9 1802.6,491.7 1803.3,483.9 1804,488.5 1804.8,493.3 1805.4,493.6 1806,497 1806.6,497 1807.3,504.7 1807.9,509 1808.5,516.7 1809.2,508.8 1809.8,498.9 1810.6,503.3 1811.3,508.3 1812,514.7 1812.6,519.5 1813.8,488.6 1814.4,506.1 1815.1,525.2 1815.7,528.8 1816.4,529.9 1817.2,516.2 1817.9,504.5 1818.6,514.5 1819.2,525.2 1820.3,544.9 1821,535.2 1821.7,523.3 1822.4,523.3 1823.2,521.4 1823.8,525.9 1824.5,527.1 1825.1,528.7 1825.7,530.6 1826.3,532.7 1827,534.5 1827.6,538.1 1828.2,538.3 1828.9,537.3 1829.5,533.6 1830.3,519.8 1831,507.3 1831.8,515.7 1832.5,524.2 1833.2,522.3 1833.8,520.3 1834.4,517.7 1835,517.7 1835.7,514.7 1836.3,510.2 1837,511.8 1837.6,517.7 1838.3,506.1 1838.9,495.1 1839.7,490.9 1840.4,491.4 1841.2,483.7 1841.9,478.3 1842.6,493.2 1843.2,510.2 1843.9,497.2 1844.6,485.8 1845.3,489.2 1846.1,489.5 1846.8,506.8 1847.6,523.3 1848.2,507.1 1848.9,489.5 1850,495.1 1850,516.4 1850.8,505.5 1851.5,495.7 1852.2,488.3 1852.8,482.6 1853.5,491.2 1854.1,497.6 1854.9,497.7 1855.6,493.9 1856.4,506.7 1857.1,517.3 1857.8,506.3 1858.4,497.6 1859.1,488.9 1859.8,480.7 1860.5,485.7 1861.3,490.1 1862,481.3 1862.8,471.3 1863.4,475.7 1864,475.3 1864.6,477 1865.3,481.4 1866,486.3 1866.9,507.9 1867.6,499.7 1868.4,493.9 1869.1,500.2 1869.7,505.1 1870.4,499.7 1871,492 1871.8,497.2 1872.5,497.6 1873.2,495.5 1873.8,490.4 1874.4,488.2 1875,487.3 1875.7,491.1 1876.3,490.1 1876.9,502.9 1877.6,513.6 1878.5,486.3 1879.3,488.2 1880,484.5 1880.7,482.5 1881.3,485 1881.9,484.5 1882.7,492.9 1883.4,501.4 1884.4,508.9 1885.1,528.6 1885.9,522.3 1886.6,516.4 1887.2,516.9 1887.9,516.5 1888.5,512.6 1889.1,512.7 1889.7,511.3 1890.4,508.9 1891,511.3 1891.6,512.3 1892.2,512.6 1892.9,511 1893.5,507.4 1894.1,507 1894.7,508 1895.4,503.5 1896,505.1 1896.6,496.7 1897.2,487.3 1897.9,478.8 1898.5,475.9 1899.2,472.3 1899.9,477.3 1900.7,480.7 1901.3,481.5 1901.9,485.5 1902.6,483.5 1903.2,480.7 1903.8,478.1 1904.4,479.8 1905.1,483.4 1905.7,480.5 1906.3,482.6 1906.9,481.9 1907.6,483.3 1908.2,484.5 1909.1,461.9 1909.9,458.8 1910.6,454.4 1911.3,460.3 1911.9,463.8 1912.7,476.5 1913.4,488.2 1914.1,479.3 1914.8,471.3 1915.4,478.9 1916.1,486.3 1916.8,480.6 1917.6,475.1 1918.3,480.7 1919.1,486.3 1919.7,470.2 1920.4,454.4 1921,453.4 1921.7,456.3 1922.8,469.5 1923.5,458.9 1924.1,448.8 1925.1,480.7 1925.8,474.8 1926.6,469.5 1927.2,466.7 1927.9,467.6 1928.6,473.2 1929.2,475.1 1930,473.8 1930.7,474.1 1931.4,482.2 1932,492 1932.8,493.3 1933.5,493.9 1934.2,494 1934.8,490.1 1935.8,502.3 1936.7,469.5 1937.5,478.6 1938.2,486.3 1939,478.2 1939.7,469.5 1940.4,478.5 1941,486.3 1941.7,477.5 1942.4,469.5 1943.1,461.6 1943.9,455.4 1944.5,462.8 1945.2,471.3 1946.1,516.4 1947.2,497.6 1947.9,492.6 1948.5,488.2 1949.2,485.6 1949.8,485.5 1950.4,484.5 1951.1,502.9 1951.7,522.9 1952.5,505.2 1953.2,489.2 1953.9,488 1954.5,488 1955.1,490.1 1955.7,492.5 1956.4,491.6 1957,492 1957.7,499.2 1958.5,507.9 1959.2,500.7 1959.8,493.9 1960.5,498 1961.1,497.6 1961.9,500.4 1962.6,502.3 1963.4,506.8 1964.1,510.7 1964.8,507.3 1965.4,505.1 1966.1,512.8 1966.8,522 1967.5,521.8 1968.3,520.1 1968.9,513.5 1969.6,508.9 1970.5,471.3 1971.4,505.1 1972.4,522 1973.5,531.4 1974.2,537.7 1974.8,542.7 1975.5,543.8 1976.1,550.2 1976.9,555.4 1977.6,559.5 1978.3,562 1978.9,566.9 1979.5,568.9 1980.1,570.7 1980.8,569.2 1981.4,572.7 1982,571.7 1982.6,567.6 1983.3,568.9 1984.4,561.4 1985.5,586.8 1986.6,550.2 1987.3,534.5 1988,520.1 1988.6,516.6 1989.3,514.5 1990,509.9 1990.8,507.9 1991.5,509.4 1992.3,508.9 1992.9,515.7 1993.6,520.1 1994.3,516.5 1994.9,514.5 1995.7,507.8 1996.4,499.5 1997.1,504.5 1997.7,510.7 1998.5,516.9 1999.2,522 2000,515.1 2000.7,508.9 2001.6,507.7 2002.4,506.1 2003.2,506.9 2003.9,512.6 2004.5,514.3 2005.2,510.3 2005.8,511.7 2006.5,511.9 2007.3,512.6 2008,500.4 2008.6,489.2 2009.3,497.9 2009.9,505.1 2010.7,507.5 2011.4,508.9 2012.2,510 2012.9,509.8 2013.7,542.7 2014.4,536.7 2015.2,529.5 2015.9,525.2 2016.7,523.9 2017.3,517.5 2018,516.4 2018.7,517.9 2019.3,515.4 2020.4,535.1 2021.1,527.2 2021.8,520.1 2022.4,523.9 2023.1,523.9 2023.8,530.6 2024.6,535.1 2025.2,524.2 2025.9,512.6 2026.6,516.8 2027.4,522.9 2028,519.6 2028.7,514.5 2029.4,516.2 2030.2,516.4 2031.1,492.9 2031.8,502.2 2032.4,512.6 2033.2,508.1 2034,507 2034.7,505.6 2035.5,504.2 2036.1,498.1 2036.8,493.9 2037.4,501.4 2038.1,507 2038.7,508.9 2039.3,510.2 2040,508.9 2040.7,511 2041.5,514.5 2042.1,520.2 2042.7,523 2043.3,528.6 2044.1,525.7 2044.8,520.1 2045.5,514.2 2046.1,508.3 2046.7,504.2 2047.4,512.2 2048,522 2048.7,518.3 2049.3,519.8 2049.9,516.4 2050.5,513.1 2051.2,511.3 2051.8,508.9 2052.4,501.6 2053.1,493.9 2054.2,520.1 2054.9,515.9 2055.5,514.5 2056.2,521.4 2056.9,527.6 2057.6,513 2058.4,497.6 2059,500.4 2059.6,498.2 2060.2,498.5 2060.9,500.1 2061.5,500.1 2062.1,496.7 2062.7,498.9 2063.4,497.4 2064,498.5 2064.6,498.1 2065.2,498 2065.9,501.4 2066.5,504.3 2067.1,501 2067.7,504.2 2068.7,512.6 2069.3,523.1 2070,533.3 2070.7,520.5 2071.5,507.9 2072.2,507.5 2073,512.6 2073.7,522.7 2074.3,534.2 2075,522.3 2075.6,508.9 2076.4,497.7 2077.1,486.3 2077.9,493 2078.6,497.6 2079.3,511.7 2079.9,523.9 2080.6,510.7 2081.3,499.5 2082,503.4 2082.8,505.1 2083.4,504.9 2084,509.7 2084.6,512.6 2085.3,514.8 2085.9,520.4 2086.5,520.1 2087.4,501.4 2088.1,496 2088.8,490.1 2089.5,495.5 2090.3,502.3 2091,500 2091.8,497.6 2092.4,503.3 2093.1,508.9 2093.7,502.5 2094.4,497.6 2095.1,504.8 2095.9,512.6 2096.6,506 2097.4,497.6 2098.1,507.2 2098.7,514.5 2099.4,506.7 2100,497.6 2100.8,504.1 2101.5,512.6 2102.3,506.1 2103,497.6 2103.7,504.1 2104.3,510.7 2105,513.4 2105.6,510.1 2106.2,512.6 2106.8,511.8 2107.5,517.6 2108.1,516.4 2108.8,525.2 2109.4,535.1 2110.2,525.6 2110.9,518.3 2111.5,515.1 2112.2,514.9 2112.8,508.9 2113.4,512.1 2114,510.7 2114.7,512.6 2115.4,526.5 2116.2,538 2116.8,526 2117.5,512.6 2118.1,522.8 2118.8,531.4 2119.5,532.3 2120.3,531.4 2120.9,536.1 2121.5,542.4 2122.2,546.4 2122.8,547.5 2123.4,551.5 2124,550.2 2124.8,558.7 2125.6,567.1 2126.2,561.8 2126.8,554.5 2127.4,548.3 2128.1,546.9 2128.7,546.4 2129.4,548.8 2130.1,550.2 2130.8,543.6 2131.6,538 2132.3,542.3 2133.1,548.3 2133.7,550.7 2134.4,552 2135,540.7 2135.7,527.6 2136.4,519.6 2137.2,512.6 2137.9,524.8 2138.7,535.1 2139.4,507.9 2140.2,520.4 2140.9,531.4 2141.7,532.1 2142.4,529.5 2143.1,535.9 2143.8,542.7 2144.4,532.6 2145.1,520.1 2145.8,515.2 2146.6,508.9 2147.3,519.4 2148.1,529.5 2148.7,523.4 2149.4,522 2150,519.3 2150.6,512.8 2151.3,512.6 2151.9,515.3 2152.5,512.3 2153.1,513.6 2153.8,512.5 2154.4,513.2 2155,512.6 2155.7,522.3 2156.3,531.4 2157.1,526 2157.8,520.1 2158.5,525.1 2159.1,530.5 2159.7,535.1 2160.3,536 2161,532.3 2161.6,531.4 2162.3,525.8 2163.1,520.1 2163.7,513.4 2164.4,505.1 2165.1,497.8 2165.7,492.9 2166.3,488.7 2167,487.5 2167.6,486.3 2168.3,490.4 2169.1,495.7 2169.8,505.1 2170.4,512.6 2171.2,512.4 2171.9,516.4 2172.6,508.9 2173.2,503.2 2174,511.2 2174.7,520.1 2175.4,520.8 2176,523.3 2176.6,522 2177.4,527.9 2178.1,531.4 2178.8,515.3 2179.4,497.6 2180,498.3 2180.7,494.8 2181.3,497.6 2181.9,495 2182.6,498.4 2183.2,497.6 2183.8,502 2184.4,501.2 2185.1,505.1 2185.7,514.7 2186.4,522 2187.1,526.8 2187.9,531.4 2188.6,524.1 2189.4,516.4 2190,512 2190.7,507 2191.3,516.3 2192,527.6 2192.7,515.1 2193.5,504.2 2194.3,514.1 2195,522 2195.7,516.9 2196.3,514.5 2197,515.8 2197.6,522 2198.4,521.6 2199.1,523.9 2200.4,524 2200.4,1609" fill="none" stroke="#505050" stroke-width="3.5" stroke-linejoin="round" stroke-linecap="round"/>
<path clip-path="url(#plotclip)" d="M260.3,1607.8 260.9,1608.2 261.6,1608.2 262.2,1607.5 262.8,1607.5 263.5,1608.1 264.1,1608 264.7,1608 265.3,1607.7 266,1607.9 266.6,1607.9 267.2,1607.9 267.8,1607.6 268.5,1607.8 269.1,1607.8 269.7,1608 270.3,1608.2 271,1608.2 271.6,1607.9 272.2,1607.8 272.8,1607.7 273.5,1607.5 274.1,1607.5 274.7,1607.8 275.3,1607.7 276,1607.8 276.6,1608.1 277.2,1607.8 278.2,1599.8 278.8,1599.8 279.4,1599.8 280,1599.6 280.7,1599.4 281.3,1599.6 281.9,1599.5 282.5,1599.8 283.2,1600.1 283.8,1599.9 284.4,1599.5 285,1600 285.7,1600 286.3,1599.9 286.9,1600 287.5,1599.9 288.2,1600 288.8,1599.7 289.4,1600.1 290,1600.1 290.7,1599.5 291.3,1599.8 292,1593.5 292.8,1587.2 293.4,1587.3 294.1,1587.1 294.7,1587.2 295.4,1587.1 296,1587.4 296.7,1587.1 297.3,1587.3 297.9,1586.9 298.6,1587.3 299.2,1587.3 299.9,1587 300.5,1587 301.2,1587.3 301.8,1587.1 302.5,1586.9 303.1,1586.7 303.7,1586.8 304.4,1587 305,1586.6 305.7,1587.1 306.3,1586.8 307,1586.7 307.6,1587.1 308.2,1586.7 308.9,1587.1 309.5,1587 310.2,1586.8 310.8,1586.8 311.5,1586.9 312.1,1586.9 312.8,1586.7 313.4,1586.6 314.1,1586.8 314.7,1587.1 315.3,1586.9 316,1586.5 316.6,1586.8 317.3,1589 317.9,1591 318.5,1592.8 319.2,1587 319.8,1581 320.5,1580.8 321.1,1581.1 321.7,1580.6 322.4,1581 323,1580.7 323.7,1580.7 324.3,1581.1 324.9,1580.5 325.6,1580.8 326.2,1581 326.9,1580.6 327.5,1580.5 328.2,1581 328.8,1580.6 329.4,1580.8 330.1,1580.3 330.7,1580.6 331.3,1580.5 332,1580.4 332.6,1580.8 333.2,1580.4 333.8,1581 334.5,1580.4 335.1,1580.9 335.7,1580.4 336.3,1580.6 337,1581 337.6,1580.5 338.2,1580.6 338.8,1580.9 339.5,1580.7 340.1,1580.5 340.7,1581.2 341.3,1580.6 342,1580.5 342.6,1580.8 343.2,1581 343.9,1581.1 344.5,1580.7 345.1,1580.8 345.7,1580.6 346.4,1580.9 347,1581.2 347.6,1581 348.3,1581.2 348.9,1581.4 349.6,1581.3 350.2,1581.5 350.9,1581.4 351.5,1581.3 352.2,1581.2 352.9,1581.6 353.5,1581.4 354.2,1581.6 354.8,1581 355.4,1580.9 356.1,1580.6 356.7,1575.6 357.4,1570.3 358,1570 358.6,1570.3 359.3,1570.2 359.9,1570.3 360.5,1570 361.2,1570.6 361.8,1570.1 362.4,1570.3 363.1,1570.2 363.7,1569.9 364.3,1570.2 365,1569.9 365.6,1569.9 366.2,1569.8 366.9,1569.9 367.5,1569.9 368.1,1570.2 368.7,1570.1 369.4,1570.4 370,1570.4 370.6,1570.4 371.3,1569.9 371.9,1570 372.5,1569.9 373.2,1570.1 373.8,1570.1 374.4,1570.2 375.1,1570.2 375.7,1569.8 376.3,1569.9 377,1570 377.6,1569.6 378.2,1569.6 378.9,1569.9 379.5,1569.7 380.1,1570.1 380.8,1569.7 381.4,1569.9 382.1,1562.7 382.9,1555.7 383.6,1548.7 384.3,1548.5 384.9,1548.5 385.6,1548.6 386.2,1548.6 386.8,1548.4 387.5,1548.6 388.1,1548.3 388.8,1548.8 389.4,1548.8 390,1548.6 390.7,1548.4 391.3,1548.4 391.9,1548.4 392.6,1548 393.2,1548.2 393.9,1548.3 394.5,1548 395.1,1547.9 395.8,1548.4 396.4,1548.1 397.1,1548.1 397.7,1548.2 398.3,1548.5 399,1548.4 399.6,1548.2 400.3,1548.7 400.9,1548.3 401.6,1548.1 402.2,1548.6 402.9,1548.2 403.5,1548.4 404.2,1548.8 404.8,1548.7 405.4,1548.3 406.1,1548.6 406.7,1548.7 407.4,1550.8 408,1553.1 408.6,1555.3 409.3,1555.1 409.9,1555.3 410.5,1555 411.2,1555.1 411.8,1555.2 412.5,1555.6 413.1,1555 413.8,1555.5 414.4,1555.1 415.1,1555.3 415.7,1555.2 416.4,1555.3 417,1555.5 417.6,1555.2 418.3,1555 418.9,1555.3 419.6,1555 420.2,1554.9 420.9,1555.4 421.5,1555.3 422.1,1555.5 422.8,1555.2 423.4,1554.7 424.1,1555.2 424.7,1555.2 425.4,1555.1 426,1555 426.6,1554.8 427.3,1554.9 427.9,1555.1 428.6,1554.7 429.2,1554.8 429.9,1554.8 430.5,1555.1 431.1,1554.7 431.8,1557.3 432.4,1559.8 433,1561.8 433.7,1562.1 434.4,1561.7 435.1,1561.7 435.8,1561.8 436.6,1569.4 437.3,1576.9 438,1570.7 438.6,1564.7 439.3,1564.6 439.9,1564.7 440.5,1564.9 441.1,1564.6 441.7,1564.7 442.4,1564.2 443,1564.4 443.6,1564.8 444.2,1564.2 444.9,1564.3 445.5,1564 446.1,1564 446.7,1564.3 447.5,1532.8 448.1,1529.3 448.7,1525.6 449.3,1521.5 450.1,1520.4 450.8,1519.1 451.5,1518.9 452.1,1519.1 452.7,1519.2 453.3,1519.6 454,1519.7 454.6,1519.6 455.2,1519.8 455.9,1519.6 456.5,1520 457.1,1519.8 457.7,1519.9 458.4,1519.5 459,1518.8 459.6,1518.9 460.2,1518.7 460.9,1517.9 461.5,1516.6 462.1,1515.9 463,1522.1 463.7,1522.4 464.3,1522.1 464.9,1522.3 465.6,1522.1 466.2,1522.5 466.8,1522.4 467.5,1522.3 468.1,1522 468.7,1522.2 469.3,1521.9 470,1522.4 470.6,1522.6 471.2,1522.1 471.9,1522.4 472.5,1522.4 473.1,1522.3 473.7,1522.4 474.5,1504.2 475.2,1485.8 476,1486.1 476.7,1486 477.4,1485.8 478.1,1485.8 478.7,1467.2 479.4,1448.3 480,1448.2 480.7,1448.5 481.3,1448.4 481.9,1448.5 482.6,1448.5 483.2,1448.1 483.8,1448.4 484.5,1448.2 485.1,1448.4 485.8,1448.6 486.4,1448.4 487,1447.9 487.7,1448.3 488.3,1448.4 488.9,1448.6 489.6,1448.4 490.2,1448.5 490.9,1447.9 491.5,1448.6 492.1,1448.3 492.8,1448.4 493.4,1448.4 494.1,1448.6 494.7,1448.6 495.4,1448 496,1448.5 496.7,1448.5 497.3,1448.1 498,1448.5 498.6,1448.3 499.3,1448.3 499.9,1431.3 500.6,1414.5 501.3,1414.4 502,1413.6 502.7,1413.6 503.5,1413.2 504.2,1412.8 504.9,1412.6 505.6,1397.2 506.2,1381.7 506.9,1381.5 507.5,1381.3 508.2,1381.7 508.8,1381 509.5,1380.8 510.2,1381.1 510.8,1381.2 511.5,1381 512.1,1381 512.8,1380.7 513.4,1380.6 514,1380.6 514.7,1380.3 515.3,1380.1 515.9,1380.2 516.5,1379.8 517.2,1379.7 517.8,1380.1 518.4,1379.8 519,1378.8 519.7,1378.4 520.3,1377.5 521,1379.3 521.8,1380.7 522.5,1380.6 523.2,1380.7 523.9,1380.7 524.6,1380.7 525.2,1380.1 525.9,1380.3 526.7,1379.2 527.4,1378.5 528.3,1394.6 529.1,1410.7 529.8,1410.8 530.5,1410.8 531.2,1410.7 531.9,1411.2 532.6,1411.6 533.2,1411.3 533.9,1411.5 534.6,1411.5 535.3,1411.7 536,1411.8 536.7,1412.2 537.3,1412 538,1412.3 538.7,1412.3 539.3,1412.5 540,1412.6 540.8,1411.8 541.5,1410.1 542.3,1409.2 543,1416.7 543.8,1423.9 544.4,1423.8 545.1,1424.1 545.7,1424.2 546.4,1424.1 547,1424 547.7,1424.3 548.4,1423.9 549,1424.3 549.7,1424.1 550.3,1424.3 551,1424.2 551.6,1424.3 552.2,1424.1 552.8,1423.9 553.5,1423.5 554.1,1423.3 554.7,1423.4 555.3,1423.1 556,1423 556.6,1423.3 557.2,1422.6 557.8,1423 558.5,1422.5 559.1,1422.4 559.7,1422.4 560.4,1421.9 561.1,1421.4 561.8,1421.4 562.5,1421.1 563.2,1422.2 563.8,1423.9 564.6,1424.3 565.3,1424.8 566.5,1474.6 567.6,1440.8 568.4,1440.3 569.2,1440.4 570,1439.8 570.7,1441.5 571.4,1442.7 572,1437.9 572.6,1433.3 573.2,1428.6 573.9,1429.4 574.5,1428.2 575.2,1427.8 575.8,1428.1 576.5,1428 577.1,1428.9 577.8,1428.3 578.4,1428.3 579.1,1429.2 579.7,1428 580.4,1428.6 581.3,1425.8 581.9,1360.1 582.2,1300 582.6,1287.8 583.2,1274.7 583.8,1275.3 584.5,1274.9 585.2,1274.3 585.9,1275.1 586.5,1274.1 587.2,1275.1 587.9,1274.3 588.6,1276 589.3,1275.9 590,1277.1 590.7,1277.5 591.4,1278 592,1277.2 592.7,1276.8 593.4,1276.6 594,1276.4 594.7,1275.6 595.4,1274.7 596,1275.6 596.6,1274.1 597.3,1274.6 597.9,1274.6 598.5,1273.9 599.1,1273.9 599.8,1273.3 600.4,1274.8 601,1273.8 601.7,1273 602.4,1272.8 603.1,1273.1 603.8,1271.9 604.5,1272.5 605.1,1275.3 605.7,1275.6 606.3,1300 606.3,1300 606.3,1408.9 606.9,1410.5 607.6,1413.6 608.2,1408.5 608.9,1404.2 609.5,1403.6 610.1,1403.3 610.8,1403.2 611.3,1348.8 611.5,1300 611.5,1294.4 612.2,1295.1 612.8,1294.9 613.4,1294.5 614.1,1293.8 614.7,1293.8 615.3,1293.1 616,1294.2 616.6,1293.1 617.3,1292.8 617.9,1293.1 618.5,1293.2 619.2,1292.1 619.8,1292.3 620.4,1293.4 621,1291.7 621.7,1291.6 622.3,1291.6 622.9,1291.6 623.5,1291.8 624.2,1291.3 624.8,1291.4 625.4,1291.6 626,1290.8 626.7,1290.6 627.3,1291.1 627.9,1290.3 628.5,1290.1 629.2,1290.6 629.8,1289 630.4,1288.9 631,1289.3 631.7,1290.4 632.3,1289.9 632.9,1291 633.5,1290.1 634.2,1291.3 634.8,1291.6 635.2,1300 635.2,1300 635.2,1390.1 635.8,1391.2 636.5,1390.5 637.2,1391.8 637.9,1391.8 638.5,1392 639.3,1391.1 640,1391.6 640.7,1389.6 641.4,1389.2 642,1389.3 642.6,1389.7 643.2,1389.3 643.9,1390.5 644.5,1390.1 645.1,1390.1 645.7,1372.6 646.4,1355.1 647,1337.5 647.6,1311.3 648.4,1312.1 649.2,1312 650,1310.9 650,1310.7 650.7,1310.6 651.4,1309.2 652.1,1308.4 652.8,1307.8 653.4,1309.1 654.1,1309.4 654.7,1311.6 655.4,1310.8 656,1312.6 656.7,1310.8 657.4,1312.5 658,1312 658.7,1312.4 659.4,1311.6 660.1,1303.3 660.9,1295.6 661.6,1295.4 662.3,1296.5 663,1295.1 663.6,1295.5 664.3,1296.1 665,1296.6 665.6,1294.7 666.3,1293.4 666.9,1292.8 667.5,1294.1 668.1,1293.9 668.8,1295.6 669.4,1297.5 670,1297.8 670.6,1298.5 671.3,1293.1 671.9,1288.8 672.5,1283.4 673.2,1282.6 673.8,1282.8 674.4,1282.6 675,1281.5 675.7,1281.9 676.3,1281.6 676.9,1280.5 677.5,1280.6 678.2,1281.9 678.8,1281.6 679.4,1280.8 680,1281 680.7,1281.2 681.3,1279.6 681.9,1280.1 682.5,1279.3 683.2,1279.1 683.8,1279.7 684.4,1279.1 685,1279.4 685.7,1279.3 686.3,1279.7 686.9,1280.2 687.5,1280.9 688.2,1281.5 688.8,1281.7 689.4,1281.5 690,1281.3 690.7,1282.2 691.3,1281.6 691.9,1280.6 692.5,1280.1 693.2,1281.3 693.8,1280.6 694.4,1279.4 695,1279.7 695.7,1293.5 696.3,1307.4 696.9,1321.5 697.7,1301.5 698.4,1281.6 699.1,1258 699.7,1234.6 700.7,1202.7 701.4,1200.8 702.1,1200.2 702.8,1198.6 703.5,1196.2 704.1,1197.6 704.7,1198.6 705.4,1199.9 706.1,1201.2 706.8,1204.4 707.5,1206.8 708.2,1207.4 708.9,1203.9 709.6,1202.3 710.3,1199.5 711,1196.2 711.7,1195.4 712.4,1192.6 713.1,1192.8 713.8,1191.5 714.6,1187.9 715.3,1185.8 715.7,1153.9 716.1,1122 716.6,1088.2 717.3,1088.7 717.9,1090.9 718.5,1092 719.1,1094.2 719.8,1096.1 720.4,1097.6 721,1096.4 721.6,1094.4 722.3,1092 722.9,1090.7 723.5,1088.3 724.1,1088.2 724.8,1092.1 725.4,1095.3 726,1097.6 726.8,1096.6 727.6,1094.1 728.5,1092 729.2,1092.7 730,1094.9 730.7,1097.6 731.3,1096.7 732,1098.3 732.6,1098.2 733.2,1097.4 733.8,1099.6 734.5,1098.5 735.2,1094.3 736,1089.2 736.6,1092.4 737.2,1093.4 737.8,1095.7 738.5,1107.2 739.2,1119.2 739.8,1116.2 740.4,1115.7 741,1112.6 741.7,1239 742.4,1364.9 743.1,1247.9 743.9,1131.4 744.2,1073.2 745,1078.3 745.7,1082.6 746.4,1080 747,1076.7 747.6,1074.1 748.2,1076.7 748.9,1080.3 749.5,1082.6 750.2,1084.7 751,1087.4 751.7,1089.2 752.4,1085.4 753,1084.1 753.6,1080.7 754.4,1068.3 755.1,1056.3 755.7,1053.9 756.4,1048.7 757,1046 757.7,1045.3 758.4,1045.6 759.1,1045 759.8,1045 760.6,1042.3 761.3,1040.5 762.1,1036.6 762.7,1038.6 763.3,1042.9 763.9,1045 764.8,1046.8 765.6,1048.3 766.4,1048.8 767.1,1047.1 767.9,1045.6 768.6,1044.1 769.4,1049.3 770.3,1054.7 771.1,1060.1 771.7,1052.9 772.3,1046 772.9,1039.4 773.6,1046.4 774.3,1053.5 775,1035.8 775.8,1018.8 776.7,1000 776.7,1000 777.6,989.7 778.3,980.3 778.9,971 779.5,961.6 780.1,924 780.8,903.4 781.6,901 782.3,899.6 783,899.1 783.6,900.5 784.2,900.6 784.8,904.9 785.5,906.7 786.1,910.9 786.8,910.5 787.5,909.9 788.2,909.8 788.9,908.1 789.5,908.7 790.2,907.9 790.8,907.8 791.4,909.6 792,908.3 792.7,909 793.4,905.9 794.1,906.2 794.8,902.6 795.5,901.5 796.2,900.3 796.9,899.6 797.6,898.7 798.3,898.7 798.9,898.9 799.5,897.6 800.2,897.7 800.9,904.2 801.7,910.9 802.4,898.7 802.4,848.9 803,788.9 803.6,786.5 804.2,785.4 804.9,782.3 805.5,771.5 806.2,761.7 806.8,766.1 807.4,770 808,774.8 808.9,772.9 809.7,773.2 810.5,772 811.1,772.9 811.7,773 812.4,776.7 813.2,774.3 814,773 814.8,768.2 815.4,771.4 816.1,773.2 816.7,775.7 817.3,774.4 817.9,772.1 818.6,767.3 819.2,767.2 819.8,769.4 820.4,772 821.1,778 821.8,779.5 822.3,755.1 823.1,711 824.2,708.2 824.8,719.3 825.5,728.8 826.1,726.1 826.8,727.3 827.4,725 828,730.6 828.6,733 829.3,736.3 829.9,737.9 830.5,737.7 831.1,738.2 831.8,736.3 832.4,735.6 833,736.3 833.6,740.2 834.3,746 834.9,750.4 835.5,736.1 836.2,723.2 837,723.1 837.8,721.4 838.6,721.3 839.3,720.7 839.9,722.9 840.5,720.4 841.2,732.3 841.8,744.8 842.6,733.9 843.3,723.2 844,714.5 844.7,706.3 845.4,719.8 846.2,734.4 846.8,728.9 847.4,724.5 848,719.4 848.7,723.1 849.3,721.8 849.9,726 850.5,727.2 851.2,724.9 851.8,723.2 852.5,723.8 853.2,729.8 853.9,731.1 854.6,734.4 855.2,731.4 855.9,726.3 856.5,725 857.1,726 857.7,727 858.4,727.9 859.1,729.9 859.8,729.7 860.5,731 861.2,730.7 861.9,730.4 862.6,726.5 863.3,724.2 864,725 864.6,720.3 865.2,715 865.9,711 866.6,717.3 867.4,725 868,734.1 868.7,743.8 869.3,744.9 870,745.7 870.7,757.2 871.5,768.2 872.2,776.9 873,785.1 873.7,830.2 874.5,819.8 875.2,807.6 875.9,816.9 876.5,827.8 877.1,837.7 877.7,831.9 878.4,828 879,822.7 879.8,825.8 880.5,827.8 881.3,833 882.1,828 882.9,825.6 883.7,820.8 884.3,821.9 884.9,825.4 885.6,824.5 886.2,820.7 886.8,817.5 887.4,815.1 888.3,808.5 889.1,800.3 889.9,792.6 890.5,799.4 891.2,807.6 891.8,811.5 892.5,812 893.1,815.1 893.8,817.1 894.5,815.3 895.2,815.9 895.9,814.2 896.6,813.1 897.3,808.2 898,807.3 898.7,802 899.3,802.2 900,806.2 900.6,809.5 901.4,806.8 902.2,798.4 903,796.4 903.7,790.1 904.3,783.2 905,786.3 905.6,785.5 906.2,785.1 906.8,788.4 907.5,786.2 908.1,790 908.7,791.9 909.3,792.6 910,794.5 910.6,786.5 911.2,779.4 911.8,771 912.5,778.2 913.1,785.8 913.7,794.5 914.4,791.9 915.1,790.6 915.8,786.9 916.5,782.3 917.3,779.7 918,774.4 918.8,772 919.6,778.4 920.4,782.4 921.2,788.9 922.2,806.7 922.9,798.1 923.7,791 924.4,782.3 925.2,787 926.1,787.5 926.9,790.7 927.7,792.4 928.5,788.3 929.3,789.8 930.2,780.1 931,770.1 931.6,770.5 932.2,773.8 932.9,777.6 933.6,784.5 934.4,792.6 935.3,848.9 936.3,869.6 936.9,858.3 937.6,848.9 938.3,843.1 939.1,837.7 939.8,838.6 940.5,838.5 941.2,841.2 941.9,841.4 942.5,838 943.1,839 943.8,837.7 944.6,836.6 945.4,834.7 946.2,833.9 946.9,839 947.7,838.4 948.5,843.3 949.1,840.4 949.7,838.1 950.3,835.8 951,832.4 951.7,832.4 952.4,827.7 953.1,824.5 953.8,836.3 954.5,848 955.1,829.4 955.7,811 956.3,792.6 957.1,786 957.8,777.6 958.8,752.3 959.4,757.1 960,759.9 960.7,762.6 961.5,768.2 962.3,775.3 963.1,781.4 963.8,775.8 964.6,773.1 965.3,770.1 966,764.2 966.6,760.5 967.2,755.1 968,770.1 968.7,783.2 969.5,784.5 970.2,784.8 971,785.1 971.7,776.5 972.5,768.7 973.2,760.7 974,760.2 974.9,759.7 975.7,759.8 976.3,765.3 976.9,771.1 977.5,777.6 978.5,811.4 979.4,841.4 980,845.1 980.7,848.6 981.3,848.9 981.9,844.5 982.6,839.2 983.2,833.9 984,840.5 984.8,848.6 985.6,856.4 986.4,855.6 987.1,853.7 987.9,848.9 988.6,845.4 989.4,841.8 990.1,837.7 991.2,858.3 992,853.7 992.7,847.8 993.5,843.3 994.1,841.8 994.8,837.7 995.4,835.8 996.1,844.4 996.9,851.8 997.6,847 998.4,842.7 999.1,837.7 999.9,828.4 1000.6,818.9 1001.4,820.3 1002.1,821.2 1002.9,822.7 1003.6,814.6 1004.4,804.8 1005.1,810 1005.9,814.1 1006.6,818.9 1007.3,814.9 1008,812.8 1008.8,808.1 1009.5,802.9 1010.1,806.5 1010.7,810.8 1011.3,811.4 1012,809.1 1012.7,810.9 1013.4,810.6 1014.1,809.5 1014.8,818.2 1015.4,827.9 1016,835.8 1016.7,828.6 1017.3,819.3 1017.9,811.4 1018.6,810.1 1019.3,808.9 1020,806.7 1020.7,803.9 1021.4,802.3 1022.1,803.4 1022.8,800.3 1023.5,800.1 1024.2,801.3 1024.9,806.6 1025.6,809.3 1026.3,811.4 1027,805.6 1027.7,800.1 1028.5,805.1 1029.3,811.1 1030.1,815.1 1030.7,820.1 1031.4,823.7 1032,828.3 1032.7,822 1033.4,814.3 1034.1,807 1034.8,800.1 1035.5,807 1036.3,813.8 1037,819.8 1037.7,813.4 1038.3,805.8 1038.9,798.3 1039.7,798.4 1040.6,796.5 1041.4,796.4 1042,801.8 1042.6,808.8 1043.2,815.1 1043.9,820.4 1044.5,827.9 1045.1,833 1045.7,825.5 1046.4,818.8 1047,811.4 1047.9,725 1048.6,724.3 1049.3,719.8 1050,719.4 1050,719.8 1050.9,733 1051.6,727.5 1052.3,720.8 1053.1,720.6 1053.9,720 1054.7,722.7 1055.5,723.4 1056.3,722.8 1057.1,723.6 1057.8,725.9 1058.4,724 1059,724.5 1059.6,719.7 1060.3,715.5 1060.9,712.3 1061.5,713.5 1062.1,719.2 1062.8,722.7 1063.4,728.2 1064.1,733 1064.7,727.9 1065.4,724.5 1066.2,722.2 1067,721.3 1067.8,719.8 1068.5,723.9 1069.1,726.5 1069.7,726.4 1070.6,695.4 1071.4,699.6 1072.1,700.1 1072.8,703.1 1073.5,704.8 1074.1,708.6 1074.7,710.4 1075.3,715.1 1076,712.9 1076.7,709.5 1077.5,708.2 1078.3,709.2 1079.1,710.5 1079.8,716.3 1080.6,718.9 1081.3,713.4 1081.9,707.6 1082.7,705 1083.4,700.1 1084.4,668.2 1085,660.6 1085.7,653.2 1086.3,650.3 1086.9,649.5 1087.5,647.6 1088.2,650.4 1088.8,651.3 1089.4,655.1 1090.4,670.1 1091,666.7 1091.6,662.9 1092.2,657.9 1092.9,656.6 1093.6,657.1 1094.3,660.1 1095,658.8 1095.8,659.7 1096.5,657 1097.2,658.5 1097.9,657.9 1098.6,656.2 1099.3,658.7 1100,656.9 1100.7,656 1101.4,658.7 1102.1,659.6 1102.8,663.3 1103.5,666.3 1104.2,663.6 1104.9,660.5 1105.6,657.1 1106.3,656 1107.1,656 1107.8,658.8 1108.4,685.1 1108.6,846.5 1109.7,685.1 1110.3,677.1 1111,668.2 1111.6,673.7 1112.3,678.3 1112.9,682.3 1113.5,676.4 1114.2,670.1 1114.8,669.3 1115.4,664 1116.1,663.5 1116.7,664.3 1117.3,668.9 1117.9,670.1 1118.7,676.2 1119.5,684.2 1120.1,678.1 1120.7,674.1 1121.3,668.2 1122,666.1 1122.6,665.5 1123.2,666.3 1124,675.1 1124.7,684.2 1125.4,675.9 1126,666.3 1126.6,663.1 1127.3,666.3 1127.9,663.5 1128.5,663.5 1129.1,665.7 1129.8,666.3 1130.4,671.9 1131,676.9 1131.7,683.2 1132.4,677.5 1133.2,670.1 1134.1,692.6 1135,709.5 1135.9,708.9 1136.7,711.4 1137.7,743.3 1138.4,748.1 1139.2,749.9 1139.9,755 1140.7,756.4 1141.4,755 1142.2,756.1 1142.9,752.7 1143.6,752 1144.2,755.5 1145.4,735.8 1146,731.8 1146.7,731.1 1147.3,730.6 1148,730.2 1149.1,692.6 1149.5,647.6 1150.1,641.8 1150.7,638.2 1151.4,632.6 1152.1,630.8 1152.9,628.8 1153.5,637.8 1154.2,645.7 1154.8,640.3 1155.4,634.8 1156.1,630.7 1156.9,633.8 1157.7,631.8 1158.5,634.4 1159.2,631.8 1160,628.3 1160.7,627.9 1161.5,628 1162.2,627.2 1162.9,625.7 1163.6,626.9 1164.3,625.7 1165,628 1165.7,631.1 1166.4,630.7 1167.1,630.4 1167.8,632.2 1168.5,635.5 1169.2,636.3 1169.8,635.1 1170.4,634 1171.1,630.7 1171.7,630.1 1172.3,629.9 1172.9,626.9 1173.6,629 1174.3,634.4 1175.2,648.5 1176,641.3 1176.7,632.6 1177.4,630.5 1178.1,631.2 1178.8,631.4 1179.5,633.5 1180.1,634.5 1180.8,632.9 1181.4,632.6 1182.1,640.9 1182.7,647.6 1183.5,645.6 1184.2,639.1 1184.8,639.1 1185.5,635.3 1186.1,632.6 1186.7,635.3 1187.3,641.6 1188,642.9 1188.6,643.7 1189.2,640.8 1189.8,641.9 1190.5,637.8 1191.2,633.5 1192.3,623.2 1192.9,613.3 1193.6,605.3 1194.3,614.3 1194.9,625 1195.7,623.4 1196.4,620.4 1197,618 1197.7,615.2 1198.3,610 1199,617.6 1199.8,624.1 1200.4,619.6 1201,619.6 1201.7,615.7 1202.3,615.8 1202.9,612.1 1203.5,609.1 1204.2,611.2 1204.8,612.5 1205.4,615.7 1206.2,613.3 1206.9,615.6 1207.7,614.7 1208.3,620.3 1208.9,623.4 1209.5,628.8 1210.3,630 1211.1,630.1 1211.8,627.9 1212.6,623.4 1213.3,620.4 1214.4,610 1215.1,608.4 1215.7,603.5 1216.3,662.6 1216.7,722.7 1217.3,719.1 1218,718.9 1218.7,713.8 1219.3,709.5 1220.1,714.3 1220.8,718.9 1221.6,710.7 1222.3,701.1 1223.3,711.4 1223.6,756.4 1224,794 1224.8,794.8 1225.6,793.3 1226.4,795.9 1227.4,814.6 1228,827.7 1228.7,839 1229.6,767.7 1230.2,709.5 1230.8,711.1 1231.4,713.4 1232.1,713.3 1232.7,712.3 1233.3,713.1 1234,714.2 1234.6,715.1 1235.2,718.3 1235.8,722.7 1236.5,725.5 1237.1,728.5 1237.7,732 1238.3,728 1239,723.9 1239.6,718.9 1240,664.5 1240.5,628.8 1241.5,602.5 1242.1,601.7 1242.7,604.6 1243.3,603.3 1244,601.8 1244.6,601 1245.2,602.5 1245.8,658.8 1246.5,660.1 1247.3,657.7 1248,656 1248.7,653.5 1249.3,656.3 1249.9,655.1 1250.5,654.8 1251.2,655.3 1251.8,656 1252.7,641.9 1253.3,647.1 1254,650.8 1254.6,656 1255.3,646.7 1256.1,638.2 1256.7,637.4 1257.4,638.3 1258,635.4 1258.7,631.2 1259.5,632.6 1260.2,628.8 1261,622.7 1261.7,615.7 1262.4,611.3 1263,610 1263.7,611.4 1264.3,611.9 1264.9,611.9 1265.6,621.2 1266.2,629.7 1266.9,628.4 1267.5,625.7 1268.1,625 1268.9,625.1 1269.6,625 1270.2,625 1270.9,627.3 1271.5,628.8 1272.1,632.4 1272.7,635.6 1273.4,640.1 1274.1,640.7 1274.9,643.8 1275.5,639.3 1276.2,636.3 1276.8,633 1277.5,630.7 1278.1,633.8 1278.8,637.5 1279.4,639.1 1280,632.1 1280.6,626.1 1281.3,619.4 1281.9,614.7 1282.6,610.1 1283.3,606.3 1284,612.6 1284.6,620.4 1285.4,618.3 1286.1,611.9 1287,616.8 1287.8,617.5 1288.6,619.6 1289.3,618.5 1289.9,615.3 1290.6,613.7 1291.2,613.8 1291.8,610.9 1292.5,611 1293.1,611 1293.9,610.3 1294.7,608 1295.5,610 1296.3,603.8 1297,597.8 1298.1,608.2 1298.9,613.7 1299.6,618.5 1300.4,615.9 1301.1,610 1301.8,608.6 1302.4,607.8 1303.1,611.7 1303.7,609.8 1304.3,610.4 1305.3,636.3 1306,632.1 1306.8,629.7 1307.2,681.4 1307.9,673.2 1308.7,666.3 1309.3,669.7 1309.9,673.4 1310.5,677.6 1311.2,675.2 1311.8,673.8 1312.4,673.9 1313,672.7 1313.7,672.9 1314.3,670.1 1314.9,673.8 1315.5,678.1 1316.2,682.3 1316.8,674.8 1317.5,667.3 1318.1,677.8 1318.8,687 1319.6,688.3 1320.4,689.3 1321.2,687 1321.9,684.5 1322.5,686.6 1323.1,684.2 1323.7,681 1324.4,680.2 1325,677.6 1325.7,676.3 1326.4,675.1 1327.1,672.5 1327.8,672 1328.6,670.9 1329.3,671.5 1330.1,674.8 1330.7,679 1331.4,681 1332.1,681.4 1332.8,686 1333.4,690.7 1334.1,689.1 1334.7,693 1335.3,691.7 1335.9,687 1336.6,682.2 1337.2,677.6 1337.9,678.7 1338.7,678.5 1339.6,707.6 1340.3,715.4 1340.9,724.5 1341.6,720.2 1342.2,717.6 1342.8,713.3 1343.6,712.5 1344.3,709.5 1345,719.8 1345.6,728.3 1346.4,721.1 1347.1,714.2 1347.8,716.9 1348.5,715.1 1349.4,767.7 1349.8,822.1 1350.6,826.8 1351.4,827.8 1352.2,830.6 1353,833.7 1353.7,831.5 1354.5,834.3 1355.2,829 1356,827.8 1356.6,830.8 1357.2,829.2 1357.8,832.5 1358.5,834.4 1359.1,837.4 1359.7,838.1 1360.4,838.5 1361.1,835.8 1361.8,838.1 1362.5,836.2 1363.3,832.5 1364.2,833.4 1365,831.5 1365.7,832.2 1366.5,829.2 1367.2,827.8 1367.8,829.3 1368.5,835.2 1369.1,835.3 1369.8,838.2 1370.6,840.4 1371.4,840.9 1372.2,843.1 1373,843.6 1373.8,841.8 1374.4,839.1 1375,837.1 1375.7,832.5 1376.4,832.9 1377.1,832.2 1377.8,832.8 1378.5,834.3 1379.2,834.1 1380,833.9 1380.7,837.2 1381.6,836.8 1382.4,834.8 1383.2,834.3 1383.7,786.5 1384.1,773.3 1384.8,775.1 1385.5,770.7 1386.2,774 1386.9,772.4 1387.6,774.7 1388.2,779.9 1388.9,776.2 1389.5,773.3 1390.1,771.5 1390.9,773 1391.7,770.9 1392.6,769.6 1393.4,770.1 1394.2,769.3 1395,771.5 1395.6,771.2 1396.3,774.6 1396.9,777.1 1397.6,730.2 1398.2,685.1 1398.9,676.6 1399.5,666.3 1400.3,678.4 1401,690.7 1401.6,690.3 1402.3,690.1 1402.9,687 1403.5,683.6 1404.1,683.6 1404.8,683.2 1405.4,682.2 1406,680.7 1406.6,681.4 1407.4,688.6 1408.1,696.4 1408.8,691.1 1409.5,685.1 1410.4,646.6 1411.3,647.6 1412.3,694.5 1412.9,689.7 1413.5,686.7 1414.1,682.3 1414.8,680.4 1415.4,681.2 1416,679.5 1416.7,678.2 1417.3,681.5 1417.9,680.4 1418.5,681.6 1419.2,685.1 1419.8,685.1 1420.7,687 1421.7,760.2 1422.4,761 1423.2,757.4 1423.8,779.6 1424.5,801.5 1425.1,798.3 1425.7,799 1426.3,798.7 1427,797.5 1427.6,792.5 1428.2,788.4 1428.9,792.1 1429.5,793.2 1430.1,795.9 1430.8,798.4 1431.5,798.8 1432.2,797.8 1432.9,797.7 1433.5,796.3 1434.2,792.1 1434.8,792.1 1435.7,802.4 1436.4,789.9 1437,778.7 1437.6,767.7 1438.5,760.2 1439.3,743.7 1440.1,726.4 1441,713.3 1441.8,720.5 1442.7,726.4 1443.4,731.6 1444.2,735.8 1444.8,737.3 1445.4,732.9 1446.1,734.9 1446.7,729.2 1447.3,726.8 1447.9,724.5 1448.6,721.9 1449.3,724.3 1450,723.6 1450,735.9 1450.9,707.7 1451.9,643.9 1452.6,657.8 1453.4,670.2 1454,671.1 1454.7,668.3 1455.3,654.4 1456,642 1456.8,637.6 1457.5,632.6 1458.3,648 1459,662.7 1459.7,654.5 1460.3,645.8 1461,644.9 1461.6,644.8 1462.4,646.8 1463.1,651.4 1463.8,655.1 1464.4,657.1 1465,657 1465.6,659 1466.3,659.1 1466.9,659.8 1467.6,657.6 1468.3,658.8 1469,658.6 1469.7,659.8 1470.4,649.5 1471,640.1 1471.8,637.8 1472.5,638.3 1473.2,642.2 1473.8,645.4 1474.4,647.6 1475.2,655.5 1475.9,664.5 1476.6,676.6 1477.2,687.1 1477.8,754.6 1478.2,827.8 1478.8,819.4 1479.4,813.7 1480,805.3 1480.7,808.8 1481.3,812.3 1481.9,814.7 1482.5,818.7 1483.2,823.8 1483.8,827.8 1484.5,827.8 1485.3,822.7 1486,822.2 1486.9,817.3 1487.7,817.3 1488.5,812.8 1489.1,807.9 1489.8,805.3 1490.7,760.3 1491.5,754.6 1492.2,752.8 1492.8,688.9 1493.4,687.6 1494,684.9 1494.7,685.2 1495.4,647.6 1496.1,644.7 1496.7,643.5 1497.3,642.9 1497.9,650.6 1498.6,660.5 1499.2,668.3 1499.9,660 1500.7,651.4 1501.4,654 1502.1,654.1 1502.8,658.3 1503.5,658.9 1504.2,660.9 1504.9,660.8 1505.6,656 1506.3,658 1507.1,656.7 1507.8,655.4 1508.6,657 1509.2,654.4 1509.8,652.8 1510.4,649.5 1511.1,651.9 1511.7,652.6 1512.3,655.1 1513.1,659.6 1513.9,660.1 1514.8,661.7 1515.4,658.3 1516,652.8 1516.6,648.6 1517.3,655 1517.9,660.8 1519.1,677.7 1519.8,693.6 1520.5,686.9 1521.1,681.8 1521.7,675.8 1522.3,674.9 1523,671.4 1523.6,671.1 1524.3,682.6 1525.1,693.6 1525.7,688.4 1526.3,686.6 1527,683.3 1527.6,683.2 1528.2,682 1528.8,681.4 1529.5,681.6 1530.1,683.7 1530.7,687.1 1531.5,692 1532.2,697.4 1532.8,697.5 1533.5,695.8 1534.1,695.5 1534.7,690.6 1535.3,687.8 1536,685.2 1536.6,682.4 1537.2,679.7 1537.8,679.5 1538.5,680.9 1539.2,681.4 1540.1,698.3 1540.7,748.1 1541.6,707.7 1542.3,703.8 1542.9,700.2 1543.5,700.6 1544.2,700.3 1544.8,704 1545.4,709.7 1546.1,711.5 1546.9,705 1547.6,700.2 1548.2,697.1 1548.9,696.7 1549.5,696.4 1550.1,695.3 1550.7,693.5 1551.4,688.9 1552.1,695.1 1552.9,700.2 1553.5,705.3 1554.2,711.5 1554.8,711.8 1555.4,706.7 1556.1,707.7 1556.7,699.5 1557.4,692.7 1558.5,680.5 1559.2,678.9 1560,681.4 1560.7,681.4 1561.5,685.6 1562.2,688.9 1562.9,690.2 1563.5,692.3 1564.1,690.8 1564.9,704 1565.6,706.1 1566.4,705.8 1567.1,711.9 1567.9,717.1 1568.6,745.2 1569.8,764 1570.5,813.8 1571.3,801.4 1572,790.3 1572.8,799.5 1573.5,807.2 1574.2,795.8 1574.8,782.8 1575.5,774 1576.1,764 1576.9,780.1 1577.6,797.8 1578.4,785.1 1579.1,771.5 1579.8,777.2 1580.5,782.8 1581.4,794 1582,792.7 1582.6,789.8 1583.3,789.4 1583.9,789.7 1584.5,789 1585.1,786.5 1585.9,786.9 1586.6,783.7 1587.3,784.9 1588,782.8 1588.7,780.3 1589.4,782.7 1590.1,779.1 1590.8,780.9 1591.5,777.3 1592.3,776.5 1593,777.2 1594,790.3 1594.9,769.6 1595.5,766.9 1596.2,765.1 1596.8,759.3 1597.5,763.4 1598.3,767.8 1599,770.3 1599.8,771.5 1600.4,780.1 1601.1,788.4 1601.8,787.2 1602.4,782.8 1603.2,778.1 1603.9,771.5 1604.7,777.3 1605.4,781.8 1606.2,745.2 1606.7,720.8 1607.4,718.8 1608,716.3 1608.6,717.1 1609.5,688.9 1610.3,682.7 1611.1,674.9 1611.8,749 1612.6,733.6 1613.3,719 1613.9,721.1 1614.6,722.6 1615.2,721.8 1615.9,730.1 1616.7,739.6 1617.3,745.6 1618,752.8 1618.7,739.5 1619.3,726.5 1619.9,693.6 1620.5,707 1621.2,719 1621.9,718.8 1622.7,715.2 1623.4,715.7 1624.2,711.5 1624.9,632.6 1625.5,583.8 1626.1,582.1 1626.8,583.2 1627.4,581.9 1628,576.1 1628.7,568.8 1629.4,562.9 1630.2,557.5 1630.8,556.4 1631.4,553.1 1632.1,552.8 1632.8,552.2 1633.6,548.2 1634.2,556.5 1634.9,565 1635.5,563.4 1636.1,562.7 1636.8,560.4 1637.4,560.1 1638,563.1 1638.6,562.2 1639.3,555.1 1640,548.2 1640.7,546.4 1641.5,545.3 1642.2,555.6 1643,565 1643.6,556.9 1644.3,548.2 1645,558.9 1645.8,568.8 1646.4,571.5 1647.1,570.7 1647.8,581.6 1648.6,591.3 1649.2,582.2 1649.9,573.5 1650.5,632.6 1650.8,681.4 1651.5,674.2 1652.1,667.1 1652.7,658.9 1653.3,665.6 1654,674.2 1654.6,681.4 1655.2,677.8 1655.9,673.5 1656.5,670.2 1657.2,664.9 1658,662.3 1658.7,659.8 1659.5,662 1660.4,663.6 1661.2,662.7 1661.8,668 1662.4,671.9 1663,675.8 1663.7,675.1 1664.3,672.4 1664.9,668.3 1665.6,674.2 1666.2,681.4 1667,669.1 1667.7,656.1 1668.4,660 1669,661.7 1669.6,662.7 1670.2,656 1670.9,650.5 1671.5,643.9 1672.1,641.2 1672.7,639.2 1673.4,637.3 1674.1,643.9 1674.9,649.5 1675.5,659.2 1676.2,668.3 1676.8,677.4 1677.5,688 1678.2,676.5 1679,664.5 1679.6,668.7 1680.3,674 1680.9,679.5 1681.6,687.7 1682.4,694.6 1683,680.3 1683.7,664.5 1684.6,681.4 1685.6,685.2 1686.5,726.5 1687.4,775.3 1688.2,774.3 1688.9,777 1689.6,774.5 1690.3,776.2 1691.2,748.1 1691.8,747.7 1692.5,746.7 1693.1,747.1 1693.7,744.2 1694.3,744.9 1695,744.3 1695.6,748.6 1696.3,752.8 1697.4,765.9 1698.1,763.8 1698.9,756.5 1699.6,754.6 1700.4,753.9 1701.1,752.9 1701.9,755.6 1702.7,758.4 1703.4,764 1704.3,741.5 1705,748.6 1705.6,757.1 1706.2,764 1706.8,756.7 1707.5,747.2 1708.1,739.6 1709,756.5 1710,700.2 1710.6,704.5 1711.2,709 1711.8,713.3 1712.5,712 1713.1,713 1713.7,709.6 1714.4,703.9 1715,696.4 1715.8,689.5 1716.5,684.2 1717.3,692 1718,700.2 1718.7,694.6 1719.4,688.9 1720,687.5 1720.6,684.7 1721.2,682.4 1721.9,691.9 1722.5,700.2 1723.3,696.4 1724,696.4 1724.8,705.3 1725.6,714.3 1726.2,701.8 1726.9,688 1727.5,691.6 1728.2,696.4 1728.9,701.4 1729.7,707.7 1730.3,713.6 1731,719 1731.7,707 1732.5,696.4 1733.2,702.2 1733.8,707.7 1734.6,689.6 1735.3,673 1736.1,682.2 1736.8,692.7 1737.5,687.7 1738.1,683.3 1738.8,692.3 1739.4,700.2 1740.6,726.5 1741.3,749 1742.4,762.1 1743.2,801.6 1743.9,794.3 1744.7,786.5 1745.4,794.3 1746.2,801.6 1746.9,795.2 1747.5,788.4 1748.2,783.5 1748.8,779 1750,775.3 1750.9,809.1 1751.8,749.9 1752.6,751.9 1753.3,749.8 1754.1,749 1754.8,752.4 1755.6,754.6 1756.2,766.9 1756.9,780.9 1757.5,772.6 1758.1,765.4 1758.8,757.4 1759.4,759.9 1760,759 1760.7,758.4 1761.3,765 1762,773.4 1762.6,775.8 1763.2,773.9 1763.8,776.2 1764.6,780 1765.3,782.8 1766.1,784.1 1766.8,788.4 1767.5,782.9 1768.2,779 1769.1,757.4 1769.8,759.2 1770.6,758.4 1771.3,765.9 1771.9,773.4 1772.6,772 1773.2,769.6 1774.4,764 1775.1,707.7 1775.7,646.7 1776.5,648.6 1777.3,649 1778.1,649.5 1778.9,613.9 1779.4,597 1780,601.8 1780.7,606.6 1781.3,612 1781.9,605.2 1782.6,597.7 1783.2,591.3 1783.8,592.1 1784.4,596.6 1785.1,597 1785.7,599.6 1786.3,604.9 1786.9,607.3 1787.6,602.5 1788.2,597 1788.9,594.3 1789.5,593.3 1790.1,589.5 1790.9,584.9 1791.6,581.9 1792.4,577.4 1793.1,579.2 1793.9,575.4 1794.5,575.3 1795.1,574 1795.8,571.6 1796.4,574.6 1797,573.1 1797.6,574.4 1798.8,567.9 1799.4,579.5 1800.1,591.3 1800.7,588.1 1801.4,583.8 1802.1,579.8 1802.9,574.4 1803.6,581.1 1804.4,588.5 1805,592.1 1805.7,593.2 1806.4,598.8 1807,602.6 1808.1,613.9 1808.8,614.6 1809.4,615.3 1810,619.5 1810.8,617.2 1811.5,618.9 1812.3,617.6 1812.9,615.9 1813.5,619.1 1814.1,616.7 1814.9,623.9 1815.6,632.6 1816.3,623.1 1817,612 1817.6,617.3 1818.2,624 1818.8,628.9 1819.8,595.1 1820.3,553.8 1821,554.4 1821.7,556.6 1822.6,596 1823.5,595.1 1824.3,577 1825,560.4 1825.7,554.6 1826.3,548.2 1827,546.9 1827.6,549.6 1828.2,547.2 1829,549.1 1829.9,546.7 1830.7,548.2 1831.3,553.8 1832,559.4 1832.6,562.8 1833.2,567 1833.9,568.8 1834.5,566.1 1835.1,566 1835.7,564.1 1836.4,565.5 1837,567 1837.6,567.9 1838.2,570 1838.9,571.3 1839.5,573.5 1840.1,569.7 1840.8,566.9 1841.6,567.4 1842.3,568.8 1843.2,600.7 1844.2,582.9 1844.8,593.7 1845.5,602.6 1846.4,617.6 1847.6,637.3 1848.2,619.1 1848.9,600.7 1850,602.6 1850,600.8 1850.8,617 1851.5,634.6 1852.2,620.3 1852.8,606.5 1853.5,618.2 1854.1,629 1854.9,626.1 1855.6,621.5 1856.4,608 1857.1,596.2 1857.8,614.3 1858.4,632.8 1859.1,619.5 1859.8,606.5 1860.5,606.3 1861.3,602.7 1862,619.6 1862.8,637.4 1863.4,627.5 1864.1,615.9 1865,591.5 1865.8,605.2 1866.5,617.7 1867.2,599 1867.8,582.1 1868.5,581.7 1869.1,581.6 1869.7,581.1 1870.3,584 1871,587.4 1871.6,587.7 1872.2,589.1 1872.9,593.3 1874,637.4 1874.7,625.4 1875.3,612.1 1876,607.2 1876.6,608.7 1877.2,604.6 1877.8,602.2 1878.5,599.8 1879.1,600.8 1879.7,602 1880.3,602.5 1881,599.9 1881.6,600.4 1882.2,600.6 1882.8,599 1883.6,599.4 1884.4,600.8 1885.3,625.2 1886.2,653.4 1887.2,665.6 1887.8,654.3 1888.5,644 1889,568.9 1889.4,512.6 1890,512.2 1890.7,511.6 1891.3,508.9 1891.9,507.1 1892.5,507 1893.2,507 1893.9,494.4 1894.7,482.6 1895.3,477.7 1896,475.1 1896.9,516.4 1897.7,502.1 1898.4,486.3 1899.1,487.7 1899.7,493.9 1900.4,490.6 1901.1,492 1902.2,512.6 1902.8,496.1 1903.5,480.7 1904.1,476.6 1904.7,471.5 1905.4,466.6 1906.3,514.5 1907,499 1907.6,482.6 1908.4,486.3 1909.1,488.2 1909.8,502.1 1910.4,514.5 1911.6,493.9 1912.5,542.7 1912.9,570.8 1913.5,574 1914.2,576.4 1915.3,609.3 1916,594.8 1916.6,582.1 1917.3,579.2 1917.9,580.2 1918.7,589.9 1919.5,599.9 1920.2,588.4 1921,578.3 1921.6,588.3 1922.3,599 1923.2,565.2 1924,562.2 1924.7,561.4 1925.4,567 1926,570.8 1926.7,571.2 1927.3,567.1 1928.1,556.1 1928.8,544.5 1929.6,562.2 1930.3,580.2 1931,565 1931.7,550.2 1932.3,549.4 1932.9,552.4 1933.5,553.9 1934.2,553.1 1934.8,555.8 1936,587.7 1936.7,618.7 1937.5,622.1 1938.2,625.2 1939,634.8 1939.7,643.1 1940.4,624.6 1941,606.5 1941.7,624.2 1942.4,641.2 1943.1,622.6 1943.9,602.7 1944.5,602.5 1945.1,598 1945.7,596.2 1946.5,607.4 1947.2,619.6 1947.9,610.5 1948.5,599.9 1949.2,612.6 1949.9,625.2 1950.6,627 1951.4,630.9 1952,628.9 1952.6,627 1953.2,622.4 1953.9,647.3 1954.6,670.3 1955.5,627.1 1956.2,648.5 1957,670.3 1957.7,647.3 1958.5,625.2 1959.2,619.6 1959.8,614.9 1960.5,627.7 1961.1,641.2 1961.9,636.6 1962.6,634.6 1963.4,645.3 1964.1,654.3 1964.8,648.5 1965.4,642.1 1966.1,639 1966.8,640.3 1967.5,652.6 1968.3,666.5 1968.9,661.3 1969.6,659 1970.3,652.4 1971.1,644 1971.7,639.5 1972.4,635.6 1973.1,650.7 1973.9,664.7 1974.6,652.9 1975.4,642.1 1976.1,587.7 1976.5,523.9 1977.3,526.2 1978,531.4 1979.1,577.4 1979.8,574 1980.5,568.9 1981.1,556.9 1981.8,546.4 1982.5,545 1983.3,543.6 1984,547 1984.8,550.2 1985.4,559.2 1986.1,568.9 1986.7,552.5 1987.4,535.1 1988.2,552.7 1988.9,568.9 1989.7,557.2 1990.4,546.4 1991.1,541.3 1991.7,537 1992.4,535.6 1993,534.2 1994.2,580.2 1994.8,578.2 1995.5,576.4 1996.1,559.8 1996.8,542.7 1997.9,568.9 1998.6,546.9 1999.2,523.9 2000.2,538 2001.1,537 2002,568.9 2003,597.1 2003.9,621.5 2004.7,618.4 2005.4,616.8 2006.1,625.6 2006.7,632.8 2007.7,643.1 2008.4,636 2009.2,629 2009.8,623.5 2010.5,622.4 2011.1,627.9 2011.8,633.7 2012.6,627.6 2013.3,621.5 2014.1,626.5 2014.8,632.8 2015.6,606.5 2016.7,568.9 2017.3,554.6 2018,538.9 2018.6,541.2 2019.2,542.8 2019.9,544.5 2020.5,541.2 2021.2,539.8 2022.3,572.7 2023,559.8 2023.6,548.3 2024.3,551 2024.9,555.8 2025.7,548.6 2026.4,540.8 2027.2,536.4 2027.9,531.4 2028.6,538.3 2029.3,544.5 2029.9,553 2030.6,563.3 2031.3,562.8 2032.1,559.5 2032.8,544 2033.6,527.6 2034.2,537.4 2034.9,546.4 2035.5,554 2036.2,561.4 2037,556.5 2037.7,550.2 2038.3,552.7 2039,551.2 2039.6,551.1 2040.3,559.9 2041.1,568.9 2041.7,560.6 2042.4,552 2043,554.7 2043.6,555.4 2044.3,555.8 2044.9,559.6 2045.5,559.9 2046.2,563.3 2046.8,563.2 2047.4,560.8 2048,561.4 2048.7,563.7 2049.3,565.2 2050.1,576 2050.8,588.6 2051.6,577 2052.3,565.2 2053,578.3 2053.7,590.5 2054.6,546.4 2055.5,590.5 2056.5,572.7 2057.2,567.8 2058,561.4 2058.6,556.2 2059.3,551.1 2059.9,553.4 2060.6,552 2061.7,587.7 2062.5,617.7 2063.1,617.6 2063.7,617.9 2064.4,621.5 2065,623.9 2065.6,625.1 2066.2,628.1 2067,629.9 2067.7,632.8 2068.5,638.6 2069.2,644 2069.9,649 2070.6,651.5 2071.2,645.7 2071.9,638.4 2072.6,629.6 2073.4,621.5 2074.1,619.5 2074.9,616.8 2075.8,644 2076.5,644.2 2077.1,643.1 2077.9,642.6 2078.6,640.3 2079.3,618.8 2079.9,597.1 2080.6,578.3 2081.3,559.5 2082,555.5 2082.8,550.2 2083.9,599 2085,580.2 2085.8,512.6 2086.6,507 2087.4,506.1 2088.1,523 2088.8,538.9 2089.5,525.1 2090.3,512.6 2090.9,513.6 2091.5,518.5 2092.1,520.1 2092.8,539.8 2093.5,559.5 2094.2,540.5 2095,522 2095.6,520.9 2096.3,523.9 2097,538 2097.8,553.9 2098.4,541.3 2099,528.7 2099.6,517.3 2100.4,538.8 2101.1,559.5 2101.8,555.3 2102.5,553.9 2103.1,554.6 2103.7,556 2104.3,557.7 2105,544.9 2105.7,531.4 2106.4,532 2107.2,529.5 2107.9,540.1 2108.7,550.2 2109.3,568.4 2110,587.7 2110.7,602.5 2111.5,618.7 2112.1,610.8 2112.8,602.7 2113.4,598.6 2114,596.9 2114.7,592.4 2115.3,590.7 2115.9,592.7 2116.5,591.5 2117.2,603.9 2117.9,616.8 2118.6,600.9 2119.4,585.8 2120,584 2120.6,586.4 2121.2,584.9 2121.9,580.8 2122.5,576.8 2123.1,572.7 2123.8,572.4 2124.4,568.9 2125.2,557.7 2125.9,548.3 2126.6,547.3 2127.2,545 2127.8,544.5 2128.6,561.9 2129.3,580.2 2130,565.8 2130.6,550.2 2131.3,565.6 2131.9,582.1 2132.7,570.6 2133.4,559.5 2134.1,567.2 2134.7,574.5 2135.3,583 2136.1,566.2 2136.8,550.2 2137.5,547.3 2138.1,549.2 2138.8,568.9 2139.4,588.6 2140.2,581.9 2140.9,574.6 2141.7,576 2142.4,572.7 2143.1,578.3 2143.8,582.1 2144.4,578.1 2145,578 2145.6,572.7 2146.3,574.5 2146.9,580.2 2147.7,550.9 2148.5,522.9 2149.2,550.7 2150,578.3 2150.6,555.2 2151.3,531.4 2151.9,555 2152.6,578.3 2153.3,554 2154.1,531.4 2154.8,534.2 2155.6,538 2156.2,533.7 2156.9,529.5 2157.8,517.3 2158.6,523.2 2159.3,529.5 2160,548.8 2160.7,567.1 2161.3,551.6 2162,535.1 2162.7,555 2163.5,576.4 2164.2,559.5 2165,542.7 2165.6,559.9 2166.3,576.4 2166.9,559.2 2167.6,540.8 2168.3,547.7 2169.1,553.9 2169.8,549.2 2170.4,542.7 2171.4,518.3 2172.1,524.3 2172.9,529.5 2173.8,561.4 2174.4,564.7 2175.1,568.9 2176.2,570.8 2177,591.5 2177.6,593.1 2178.2,592 2178.9,591.5 2179.5,591.3 2180.1,590.7 2180.7,589.6 2181.9,568.9 2182.5,560.5 2183.2,551.1 2183.8,558.5 2184.5,565.2 2185.2,550.1 2186,535.1 2186.7,549.8 2187.5,563.3 2188.2,551 2188.8,538.9 2189.5,552.5 2190.1,565.2 2190.9,548.1 2191.6,529.5 2192.4,547.4 2193.1,565.2 2193.8,543.4 2194.4,522.9 2195.1,552.4 2195.8,580.2 2196.5,564.6 2197.3,550.2 2198,564.6 2198.8,580.2 2199.5,553.9 2200.4,554 2200.4,1609" fill="none" stroke="#ff3838" stroke-width="3.5" stroke-linejoin="round" stroke-linecap="round"/>
<path clip-path="url(#plotclip)" d="M263.1,1571.2 263.1,1375.1 263.9,1374.7 264.6,1375.1 265.3,1375.5 266,1375.5 266.7,1376.2 267.4,1376.5 268.1,1376 268.8,1377 269.4,1378 270,1380.8 270.6,1382 270.8,1301.9 271.6,1300.1 272.3,1299.1 272.5,1300 273.5,1242.8 274.4,1198.7 275.1,1197.6 275.8,1198 276.5,1196.5 277.2,1195.9 277.9,1196.1 278.6,1195.4 279.2,1195.4 279.9,1194.5 280.6,1195 281.2,1195.1 281.9,1194.4 282.6,1195.5 283.3,1196.9 284,1197.8 284.7,1198.7 285.4,1197.1 286,1197.2 286.6,1195.9 287.2,1148.9 287.5,1073.9 288.2,1073 288.8,1071.7 289.4,1071 290.1,1070.6 290.8,1072 291.5,1071.7 292.2,1072 292.9,1070.6 293.6,1069.2 294.3,1067.3 295,1065.4 295.8,1068.2 296.6,1069.6 297.3,1072 298.1,1070.2 298.9,1067.5 299.7,1065.4 300.3,1023.2 301,1021.4 301.6,1018.5 302.2,1020.3 302.9,1020.4 303.5,1022.2 304.1,1020.5 304.7,1019.3 305.4,1018.5 306,1021 306.6,1022.1 307.3,1024.1 307.9,1024.3 308.5,1023.8 309.1,1024.1 309.8,1024 310.4,1023.9 311,1024.2 311.6,1024.2 312.3,1024.7 312.9,1024.1 312.9,980 312.9,980 312.9,874 313.5,873.3 314.1,872.7 314.8,871.2 315.5,871 316.2,870.4 316.9,869.3 317.6,868.4 318.3,866.5 319.1,865.5 319.7,868.9 320.3,871.8 321,874 321.6,872.7 322.3,870.3 322.9,868.7 323.6,866.5 324.2,869.2 324.8,873.2 325.5,875.9 326.3,875.3 327.1,874.3 327.9,874 328.5,874 329.1,875.7 329.8,875.9 330.2,847.7 330.3,815.8 331,816.6 331.6,813.3 332.2,813.9 332.6,793.3 333.3,793.5 334.1,791.8 334.8,791.4 335.5,791.3 336.1,792.7 336.7,794.2 337.5,797.8 338.2,799.8 339,802.4 339.7,802.7 340.3,803.8 341,808 341.6,810.2 342.4,806.9 343.1,807.1 343.9,804.5 344.5,800.9 345.1,799.4 345.7,795.1 346.4,794.7 347,791.4 347.6,789.5 348.2,791.6 348.9,790.2 349.5,791.4 350.1,787.1 350.7,784 351.4,780.1 352.1,773.9 352.9,768.9 353.5,765.1 354.2,763.2 354.9,762.5 355.6,762.6 356.3,760.8 357,761.4 357.7,762.8 358.5,767 359.2,765.7 359.8,762.3 360.4,764.9 361.1,769.9 361.7,771.7 362.3,770.1 362.9,765.7 363.6,763.2 364.2,766.9 364.9,770.7 365.7,772.7 366.5,774.9 367.3,776.4 367.9,774.8 368.6,772.8 369.2,770.7 370,771.7 370.8,773.3 371.6,772.6 372.3,771.1 372.9,769.3 373.5,767.9 374.3,768.9 375,767.8 375.8,768.9 376.5,771.3 377.2,776.4 377.9,778.1 378.6,781.1 379.3,780 380,777.3 380.7,777.3 381.4,776.4 382.1,777.1 382.8,775.9 383.5,778.1 384.2,778.3 384.8,777.1 385.5,773.8 386.1,773.6 386.7,773.6 387.3,772.8 388,772.6 388.6,769.9 389.3,766.1 390.1,767.8 390.9,771.1 391.7,772.6 392.3,773.7 393,771.8 393.6,773.6 394.3,775.5 394.9,780.1 395.7,785 396.4,789.5 397,785.7 397.7,780.5 398.3,776.4 398.9,778.7 399.5,781.7 400.2,783.9 400.9,780.1 401.7,777.3 402.3,777.2 402.9,777.4 403.5,778.3 403.9,828.9 404.3,859 405.4,865.5 406.1,865 406.7,865.4 407.3,864.4 408,864.4 408.6,864.6 409.2,863.9 409.9,860.1 410.5,859.9 411.4,866.5 412.1,864.2 412.7,862.2 413.3,859 414.1,862.2 414.8,866.5 415.4,861.9 416.1,859.9 416.7,855.2 417.4,855.7 418.2,856.8 418.9,859 419.7,858.5 420.4,858.9 421.2,858 422.3,879.6 422.9,874.7 423.6,871.6 424.2,868.4 424.9,870 425.7,873.7 426.4,874.9 427.1,873.2 427.8,873 428.5,869.4 429.1,868.4 429.8,867.4 430.6,870.7 431.3,874.2 432.1,875.9 432.8,875.7 433.5,875 434.2,874.7 434.9,875.9 435.5,873.1 436.1,869.3 436.8,867.4 437.5,868.8 438.2,869.4 438.9,867.9 439.6,869.3 440.2,869.6 440.8,872.1 441.5,872.5 442.1,874 442.7,873.5 443.3,874.9 444,874 444.7,874.8 445.4,876.5 446.2,875.9 446.8,877.7 447.4,880.4 448,883.4 448.7,883.7 449.3,884.4 449.9,885.2 450.6,881.9 451.3,880.4 452,875.1 452.7,873 453.3,870.6 454,872.5 454.6,870.2 455.3,872.1 456,873.1 456.7,872.1 457.4,873 458.1,875.3 458.8,876.2 459.5,875 460.2,876.8 460.9,880 461.5,882.8 462.1,884.3 462.7,885 463.4,884.7 464,884.1 464.6,884.5 465.2,884.3 465.9,885.2 466.5,881.8 467.1,881.1 467.7,878.7 468.4,879.7 469.1,882.9 469.8,882.2 470.6,885.2 471.2,889 471.8,890.8 472.4,892.8 473.1,892.1 473.8,890.2 474.5,888.3 475.2,885.2 476,884.5 476.7,881.9 477.4,883.2 478.1,881.5 478.7,879.4 479.3,878.7 479.9,878.7 480.6,877.2 481.2,875.8 481.8,874.9 482.5,877.2 483.2,877.1 483.9,877.3 484.6,878.7 485.6,909.6 486.2,910.5 486.8,913.9 487.4,914.3 488.4,930.3 489.3,951.9 490,951.1 490.7,951.3 491.4,949.3 492.1,949.1 492.8,947.8 493.4,948.5 494,949.1 494.6,946.8 495.3,948.4 495.9,947.2 496.5,948.9 497.1,949 497.8,949.6 498.4,947.6 499,949.9 499.6,950 500.3,945.7 500.9,940.1 501.5,935.9 502.3,930 503,924.4 503.8,919 504.5,917.7 505.3,916.2 506,918.8 506.8,921.8 507.4,919 508.1,916.2 508.7,919.9 509.3,920.4 510,924.7 510.7,923.6 511.4,924 512.1,924.2 512.8,925.6 513.4,924.2 514,926.7 514.7,926.2 515.3,923.7 515.9,924.8 516.5,924.7 517.2,923.2 517.8,922.2 518.4,921.4 519,921.4 519.7,920.2 520.3,919 520.9,918.8 521.5,918.4 522.2,919 522.8,918.5 523.4,920 524,920 524.8,920.9 525.5,920.1 526.2,919.4 526.9,920.9 527.6,917.8 528.3,916.3 529,914.9 529.7,912.5 530.3,915.2 530.9,915.9 531.6,918.1 532.2,919.2 532.8,918.8 533.4,918.4 534.1,918.3 534.7,918.9 535.3,919 535.9,920.1 536.6,919.7 537.2,921 537.8,920.8 538.4,920.6 539.1,921.8 539.8,921 540.5,920.6 541.2,917.7 541.9,918.1 542.5,918.8 543.1,919.7 543.8,920.9 544.5,920.4 545.2,918.9 545.9,915.6 546.6,914.3 547.2,915.8 547.8,915.8 548.5,914.6 549.1,915.5 549.7,914.8 550.3,916.2 551.1,919.3 551.8,921.1 552.6,922.8 553.2,927.6 553.8,931.9 554.5,935.9 555.2,950.2 556,964.1 556.9,972.5 557.5,970.7 558.1,967.7 558.8,965 559.5,964.1 560.2,965.8 560.9,964.2 561.6,966 562.2,957.4 562.8,950 563.5,941.6 564.2,936.1 564.9,931.2 565.6,926.3 566.3,921.8 566.9,923.9 567.5,922.8 568.2,924.7 568.9,922.1 569.6,923.3 570.3,920 571,920 571.6,920.8 572.2,920.2 572.9,920.5 573.5,920.7 574.1,919.4 574.7,919 575.5,919 576.2,915.8 577,916.2 577.6,918.9 578.2,920 578.9,921.8 579.6,922.5 580.3,920.7 581,922.6 581.7,923.2 582.5,920.5 583.2,921.8 583.8,922 584.5,923.4 585.2,924.8 585.9,923.8 586.5,924.2 587.2,925.1 587.9,926.5 588.6,928.5 589.3,930.6 590,931.1 590.7,933.1 591.3,932.9 591.9,933.1 592.6,933.1 593.2,933.5 593.8,932.6 594.4,934 595.1,934.5 595.8,936.4 596.6,935.2 597.3,935.9 597.9,938.2 598.5,938 599.1,940.6 599.8,939.6 600.4,938.3 601,935.9 601.6,938 602.3,939.1 602.9,940.6 603.6,940.6 604.3,941 605,941.8 605.7,940.6 606.5,960.8 607.2,981.9 608,955.6 608.9,930.3 609.6,924 610.4,917.2 611.1,917.9 611.8,916.3 612.5,915.6 613.2,915.3 613.9,915.9 614.6,914.3 615.2,914.6 615.9,914.4 616.6,915.5 617.2,914.7 617.9,915.3 618.6,915.4 619.3,917.7 620,919.5 620.7,919 621.4,918.4 622.1,919.6 622.7,918.8 623.4,920.1 624.1,919.3 624.7,918.3 625.4,919 626,917.2 626.7,915.7 627.3,916.2 627.9,914.9 628.5,913.4 629.2,913.4 629.8,912.7 630.4,912.2 631,913.3 631.7,911.1 632.3,913.3 632.9,911.5 634,979.1 634.6,1049.5 635.3,1049.4 635.9,1049.5 636.5,979.1 637,917.2 637.9,916.2 638.7,914.6 639.5,913.4 640.2,913.2 640.9,912 641.6,910.1 642.3,908.7 642.9,909.7 643.6,911.6 644.2,913.1 644.8,912.8 645.4,914.9 646.1,915.3 646.7,917.3 647.4,916.4 648,916.3 648.7,917 649.3,919.1 650,919 650,917.4 650.7,917 651.4,916.9 652.1,915.7 652.8,913.7 653.5,913.2 654.2,913.2 654.9,913.7 655.6,914.6 656.3,913 657,913.8 657.7,913.6 658.4,911.8 659.2,912.5 659.9,910.1 660.6,911.5 661.3,909.9 661.9,910 662.5,911 663.1,912.5 663.8,911.2 664.4,911.8 665,913.7 665.6,912.2 666.3,908.1 666.9,906.2 667.5,907.9 668.1,910.8 668.8,912.8 669.4,912.8 670,910.3 670.6,910.9 671.3,910.7 671.9,910.4 672.5,909.9 673.2,908.6 673.9,909.3 674.6,909.9 675.3,908.1 676,908.9 676.7,910.5 677.5,910.4 678.2,912.8 678.8,909.9 679.4,908.9 680,906.2 680.7,907.2 681.3,911.7 681.9,912.8 682.5,911.5 683.2,906.5 683.8,905.2 684.4,928.7 685,929.8 685.6,928 686.3,929 686.9,928.7 687.5,927.8 688.2,927.6 688.9,929.2 689.7,929.6 690.4,929.6 691.1,928.7 691.8,925.2 692.5,924.8 693.2,922.1 693.8,921.6 694.4,918.9 695,916.5 695.8,918.5 696.5,919.1 697.2,922.1 697.9,924 698.5,912.6 699.2,901.5 700,905.9 700.8,909.5 701.6,912.8 702.2,911.4 702.9,908.7 703.5,908.1 704.1,906 704.7,903.4 705.4,900.6 706,901.8 706.6,906.1 707.3,907.1 707.9,907 708.5,904.7 709.1,906.5 709.8,903.5 710.4,903.5 711,903.4 711.6,904.5 712.3,904.6 712.9,904.9 713.5,905.7 714.1,905.6 714.8,906.2 715.5,904.4 716.2,902.9 716.9,901.4 717.6,901.5 718.2,902.1 718.9,902.3 719.6,901.6 720.3,902.2 721,901.5 721.7,903.9 722.5,906.4 723.2,909.9 723.8,912.1 724.5,916.1 725.1,917.4 725.8,915.1 726.5,915.6 727.2,913.9 727.9,913.7 728.6,916.1 729.3,916.5 730,918.1 730.7,920.3 731.4,917.4 732.1,915.2 732.8,913.3 733.5,909.9 734.2,908.9 734.8,909.7 735.4,908.1 736,908.8 736.7,911.1 737.3,913.7 738,910.4 738.7,908.3 739.4,908.2 740.1,905.2 740.7,903.4 741.3,899.3 742,897.7 742.6,897.4 743.2,898.7 743.9,899.6 744.5,903.5 745.1,906.8 745.7,909 746.7,897.7 747.3,898.6 748,898.3 748.7,897.1 749.3,898 750,897.5 750.7,898.6 751.4,898.7 752.3,908.1 752.9,908 753.6,906.5 754.2,906.4 754.8,907.7 755.4,905.1 756.1,906.2 756.8,907.6 757.5,908.3 758.2,908.9 758.9,908.1 759.6,905.8 760.3,904.5 761,902.7 761.7,900.6 762.3,905.7 762.9,911.1 763.6,915.6 764.2,916.4 764.8,915.6 765.4,917.6 766.1,916.8 766.7,917.4 767.3,917.4 767.9,923.7 768.6,928.7 769.2,935.3 769.8,940.9 770.4,946.1 771.1,951.2 771.8,950.7 772.5,950.4 773.2,949.7 773.9,949.4 774.6,947.4 775.2,947.3 775.9,944.8 776.6,945.1 777.2,944.4 777.9,942.8 778.6,941.8 779.3,943.7 780,946.5 780.7,948 781.4,948.4 782.3,931.5 783,919.8 783.6,909 784.5,908.3 785.3,906.2 786.1,904.3 786.7,900.8 787.3,899.5 788,897.7 788.7,898.3 789.4,899.3 790.1,902.1 790.8,903.4 791.4,904 792,901.6 792.7,901.5 793.4,904.2 794.1,905.4 794.8,905.3 795.5,908.1 796.2,908 796.9,906 797.6,905.8 798.3,903.4 799,903.3 799.7,902.7 800.4,900.8 801.1,900.6 801.8,900.8 802.5,900.4 803.2,899.5 803.9,897.7 804.6,897.3 805.3,898 806,897 806.7,896.8 807.7,909.9 808.3,912.2 808.9,915.4 809.5,920.3 810.3,926.3 811.1,933.4 811.8,930 812.6,927.4 813.3,925.9 814,926.8 814.7,928.4 815.4,928.8 816.1,929.6 816.8,929.3 817.5,929.8 818.1,928.7 818.8,929 819.5,929.7 820.1,928.5 820.8,928.7 821.5,928.9 822.2,932.3 822.9,932.9 823.6,933.4 824.3,935.2 824.9,937.4 825.5,940 826.1,937.9 826.8,935.9 827.4,933.4 828.1,931.4 828.8,929.6 829.5,929 830.2,928.7 830.8,931.7 831.4,932 832.1,935.3 832.7,938.9 833.3,941.9 834,946.5 834.7,946.6 835.4,947.4 836.1,949.1 836.8,950.3 837.5,949.1 838.2,948.4 838.9,948.4 839.6,949.4 840.2,945.9 840.8,944.3 841.5,941.8 842.1,940.4 842.7,940.1 843.3,941.2 844,940.9 844.6,941.7 845.2,940.9 845.9,940.5 846.6,942.5 847.2,943.4 847.9,943.2 848.6,945.6 849.3,946.1 850.1,942.9 850.8,942.8 851.5,939.1 852.1,937.7 852.7,935.3 853.4,933.6 854.1,934.2 854.8,932.7 855.5,932.5 856.2,932.3 856.9,933 857.6,936 858.4,936.2 859,937.1 859.6,940.2 860.2,940.9 860.9,941.7 861.6,944.1 862.3,943.1 863,944.7 863.7,943.6 864.3,943.3 864.9,944.7 865.5,943.8 866.2,942.6 866.8,942.8 867.5,939.9 868.2,940 868.9,939.3 869.6,936.2 870.3,934.4 871,930.5 871.7,928.5 872.4,927.8 873.1,928.7 873.8,931 874.5,932.7 875.2,936.2 876,935.1 876.7,937.1 877.4,938.1 878.1,937.2 878.8,934.9 879.5,935.8 880.2,932.9 880.9,931.5 881.6,930.8 882.3,929.5 883,927.9 883.7,925 884.3,925.4 884.9,928.1 885.6,930.6 886.4,928.4 887.2,926.9 888,923.1 888.8,924.7 889.5,928.1 890.3,931.5 890.9,937 891.5,941.1 892.1,946.5 892.8,946.8 893.4,947.3 894,948.4 894.6,943 895.3,937.7 895.9,931.5 896.6,928.7 897.2,928.5 897.9,926.6 898.6,925 899.3,922.1 900,925.4 900.8,929.7 901.5,931.5 902.2,931.6 902.9,932.2 903.6,932.1 904.3,933.4 905,935.2 905.7,935.2 906.5,935.5 907.2,937.2 907.9,934.3 908.6,934.1 909.3,931.8 910,929.6 910.7,928.9 911.4,926.5 912.1,925.4 912.8,924 913.5,923.2 914.2,925.1 914.9,923.3 915.6,925 916.3,926 917,928.1 917.7,929 918.4,929.6 919,933.9 919.7,938.7 920.3,943.7 920.9,945.1 921.5,944.8 922.2,944.7 922.8,943.3 923.4,940.8 924,937.2 924.8,937.7 925.5,939.8 926.2,940 926.9,940 927.6,938.5 928.3,937.7 929,935.9 929.7,936.2 930.3,938.1 930.9,942 931.6,942.8 932.3,941.1 933,942.1 933.7,940.2 934.4,940.9 935,934.8 935.6,929.8 936.3,924 937,922.5 937.7,921.3 938.4,920.9 939.1,921.2 939.8,922.3 940.5,922.9 941.2,921.8 941.9,924 942.5,923.8 943.1,926.7 943.8,925.1 944.4,926.7 945,926.9 945.6,927.8 946.3,928.6 947,928.1 947.7,928.6 948.5,927.8 949.1,924.7 949.7,920.6 950.3,918.4 951,918.8 951.7,919.9 952.4,923.6 953.1,924 953.8,922.6 954.6,922.1 955.3,924.7 956,923.1 956.6,916.5 957.2,911 957.8,904.3 958.5,904 959.1,906.1 959.7,907.1 960.3,903.5 961,902.5 961.6,898.7 962.2,901.5 962.8,904.1 963.5,906.2 964.2,907.7 964.9,908.7 965.6,907.8 966.3,909 967,909.5 967.7,909.3 968.4,908.5 969.1,909.9 969.7,912.8 970.4,914 971,915.6 971.6,916.4 972.2,914.4 972.9,915.2 973.5,914.8 974.1,915.5 974.7,914.6 975.4,911.7 976.1,910.9 976.8,909.7 977.5,908.1 978.2,908 978.8,910.7 979.4,911.8 980,921.8 980.7,931.1 981.3,940.9 982,941.4 982.7,941.2 983.4,940.1 984.1,940.9 984.7,935.1 985.4,930.2 986,924 986.7,922.3 987.4,921.5 988.1,919.2 988.8,919.3 989.5,918.2 990.2,917.9 990.9,919.9 991.6,918.4 992.2,920.3 992.9,922 993.5,922.1 994.2,925.7 994.9,926.7 995.6,929.8 996.3,930.6 997,929.5 997.7,928 998.4,928.4 999.1,925.9 999.8,927.6 1000.5,928.2 1001.2,927.3 1001.9,927.8 1002.7,927.9 1003.4,926.1 1004.1,927.2 1004.8,925 1005.5,926.2 1006.2,924.3 1006.9,926.3 1007.6,925 1008.2,928.6 1008.8,932.6 1009.5,937.2 1010.2,938.5 1010.9,937.9 1011.6,939.3 1012.3,940 1013,940.4 1013.7,938.6 1014.4,940.7 1015.1,940 1015.7,940.2 1016.3,941.6 1017,942.8 1017.6,940.8 1018.2,940.4 1018.8,938.1 1019.5,937 1020.2,933.7 1021,931.3 1021.7,930.6 1022.4,930.5 1023.1,931.3 1023.8,930.7 1024.5,932.5 1025.1,936.7 1025.7,942.2 1026.3,946.5 1027.3,905.2 1028.2,877.1 1028.9,876.4 1029.5,876 1030.1,873.3 1030.8,874.3 1031.5,873.5 1032.2,871.5 1032.9,871.5 1033.6,870.7 1034.3,871.4 1035,872.1 1035.7,872.4 1036.4,874.1 1037.1,875.8 1037.8,876.9 1038.5,879 1039.3,881.9 1040,882.1 1040.7,884.5 1041.4,886.5 1042.1,887.4 1042.8,886.9 1043.5,885.2 1044.2,885.5 1044.8,882.3 1045.4,881.5 1046.1,878 1046.8,876.3 1047.5,876.5 1048.2,877.4 1048.9,877.1 1050,894 1050,877.6 1050.8,884.2 1051.5,890.7 1052.1,892.9 1052.8,895.7 1053.4,900.1 1054,904.8 1054.6,910.5 1055.3,915.1 1055.9,918.5 1056.5,923.5 1057.1,925.5 1057.8,922.1 1058.4,918.5 1059,914.2 1059.8,912.5 1060.5,912.6 1061.3,913.3 1062,911.5 1062.8,912.4 1063.5,912.3 1064.1,913.4 1064.8,914.1 1065.4,917 1066.5,986.5 1067.3,1066.3 1068,986.5 1068.4,900.1 1069,897.8 1069.6,893.9 1070.3,892.6 1071,892.1 1071.8,891.9 1072.5,892.6 1073.2,893.5 1073.8,892.4 1074.4,892.6 1075.2,896.1 1075.9,901.1 1076.5,901 1077.2,903.4 1077.8,904.8 1078.5,904.9 1079.3,904.7 1080,903.9 1080.7,904.2 1081.4,902.9 1082.1,900.3 1082.8,900.1 1083.5,900 1084.1,902.8 1084.7,902.9 1085.4,903.5 1086,902.3 1086.6,902 1087.2,902.1 1087.9,900.3 1088.5,899.2 1089.1,900.1 1089.7,901.3 1090.4,903.9 1091.2,902.4 1092,904.3 1092.8,903.9 1093.5,910 1094.1,915.1 1094.8,920.8 1095.4,925.5 1096.2,923.5 1097.1,922.2 1097.9,919.8 1098.5,923.3 1099.1,925.2 1099.7,926.4 1100.4,926.2 1101.1,925.2 1101.9,925.1 1102.6,924.5 1103.2,923.5 1103.9,923.6 1104.6,925.1 1105.3,926 1105.9,924.5 1106.6,913.3 1107.3,902 1107.9,900.8 1108.5,899.7 1109.1,899.2 1109.8,898.6 1110.4,898.3 1111.6,864.5 1112.2,864.4 1112.8,862.4 1113.4,861.7 1114.1,864.9 1114.7,864.4 1115.3,867.3 1115.9,868.3 1116.6,870.5 1117.2,872 1117.8,871.4 1118.4,872.4 1119.1,871 1119.7,873.9 1120.3,876.1 1121,876.7 1121.7,877.6 1122.5,876.5 1123.2,878.5 1124,878.5 1124.8,878.1 1125.6,877.6 1126.5,874.8 1127.3,872 1128.1,870.4 1128.8,870.1 1129.6,867 1130.3,862.6 1131,864.1 1131.6,862 1132.2,863.5 1132.8,863.7 1133.5,862.5 1134.1,862.6 1134.8,900.1 1135.4,1023.1 1136.3,930.2 1137,930.2 1137.6,931.4 1138.2,930.2 1139,929.2 1139.7,925.5 1140.3,927.2 1141,927.1 1141.6,929.2 1142.2,928.9 1142.9,925.1 1143.5,924.5 1144.2,924.8 1145,926.8 1145.7,926.4 1146.4,927.1 1147,928.2 1147.6,930.2 1148.2,932.8 1148.9,934 1149.5,933.9 1150.4,914.2 1151,913 1151.7,912.6 1152.3,912.3 1153,897.5 1153.6,883.2 1154.4,882.4 1155.2,883.1 1156.1,884.2 1156.8,886.1 1157.5,883.9 1158.2,884.8 1158.9,886.1 1159.6,885.8 1160.4,886 1161.1,887.9 1161.9,888.9 1162.7,890.5 1163.6,890.7 1164.2,892.7 1164.8,893 1165.4,893.6 1166.1,894 1166.8,892.6 1167.9,878.5 1168.5,879.9 1169.1,883.5 1169.8,887 1170.4,889.6 1171,888.2 1171.6,890.7 1172.3,887.2 1172.9,885.1 1173.6,883.2 1174.3,881.4 1175.4,887.9 1176.1,911.4 1176.7,948.9 1177.3,947.9 1178,948.4 1178.6,948 1179.2,944.8 1179.8,943.4 1180.5,942.4 1181.4,945.2 1182.1,942.8 1182.9,937.7 1183.5,936.6 1184.1,938.9 1184.8,937.7 1185.4,939.5 1186.1,943.3 1186.6,967.7 1187.4,1009.9 1188.2,1011.7 1189,1011.1 1189.8,1010.9 1190.5,1011.9 1191.1,1011.1 1191.7,1012.8 1192.3,948.9 1192.7,900.1 1193.3,898.5 1193.9,900.3 1194.5,899.2 1195.2,898.5 1195.9,898.7 1196.6,900.9 1197.3,900.1 1198.3,904.8 1198.9,905.3 1199.5,902.2 1200.2,902.9 1200.9,902.5 1201.7,899.2 1202.3,893.1 1203,887 1203.6,885.1 1204.2,882.7 1204.9,882.3 1205.5,880.1 1206.1,880 1206.7,876.7 1207.4,875.4 1208,874.3 1208.6,874.8 1209.2,875.3 1209.9,876.8 1210.5,879.5 1211.1,881.5 1211.7,885.7 1212.4,887 1213.2,887 1214,888.6 1214.8,890.7 1215.6,892.7 1216.3,893.5 1217.1,892.6 1217.8,893.8 1218.5,891.4 1219.2,891.5 1219.9,891.7 1220.5,889.9 1221.1,885.4 1221.8,882.3 1222.4,885.7 1223,887.4 1223.6,890.7 1224.3,889.9 1224.9,891.5 1225.5,892.6 1226.4,916.1 1227.1,916.5 1227.7,916.3 1228.3,915.1 1229.1,919.1 1229.8,922.7 1230.5,917.5 1231.1,912.3 1231.8,911.5 1232.4,910.3 1233,909.5 1233.6,909 1234.3,909.3 1234.9,907.6 1235.7,905.2 1236.5,904.8 1237.3,902.9 1238,905.8 1238.6,907.1 1239.2,907.6 1239.9,906.7 1240.5,907.6 1241.5,926.4 1242.4,883.2 1243,883.1 1243.6,881.1 1244.3,878.5 1244.9,876.3 1245.5,875.3 1246.2,874.8 1246.8,871.7 1247.4,869.1 1248,868.2 1248.7,872.5 1249.3,873.6 1249.9,876.7 1250.5,878.4 1251.2,876.8 1251.8,878.5 1252.4,876.5 1253,878.4 1253.7,876.7 1254.3,879.4 1254.9,881.9 1255.5,882.3 1256.2,881.3 1256.8,879.2 1257.4,877.6 1258.2,879 1259,877.6 1259.9,879.5 1260.6,880.2 1261.4,880.6 1262.1,881.4 1262.9,879 1263.6,879.2 1264.4,877.6 1265.2,876.5 1266,876.4 1266.8,875.7 1267.5,883.1 1268.1,890.7 1268.9,893 1269.6,896.4 1270.4,900.2 1271.1,904.8 1272.1,935.8 1272.8,934.2 1273.6,933.5 1274.3,930.2 1274.9,931.3 1275.6,930.9 1276.2,930.6 1276.9,928.8 1277.5,929.2 1278.2,918.1 1279,905.8 1279.8,899.9 1280.5,894.5 1281.1,895.2 1281.8,898.3 1282.4,900.1 1283,884.5 1283.7,868.2 1284.4,862.4 1285,857 1285.9,839.1 1286.7,849.2 1287.4,858.8 1288.1,855.1 1288.7,854 1289.3,849.5 1289.9,848.4 1290.6,847.5 1291.2,846.6 1291.8,849.5 1292.5,853.4 1293.1,855.1 1293.7,853.7 1294.4,849.5 1295,851.7 1295.6,853.7 1296.3,856 1297.1,858.3 1297.9,858.5 1298.7,861.7 1299.3,859.9 1300,859.6 1300.6,857 1301.2,852.6 1301.8,847 1302.5,842.9 1303.3,842.7 1304.1,840 1304.9,839.1 1305.5,841.5 1306.2,840.6 1306.8,841.9 1307.4,842 1308,844 1308.7,844.8 1309.3,864 1310,882.3 1310.6,885.4 1311.3,888.9 1311.9,888.4 1312.5,886.4 1313.2,884.2 1313.9,880 1314.7,876.7 1315.3,875.1 1315.9,874.8 1316.5,873.9 1317.3,873.9 1318,874.1 1318.8,874.8 1319.4,876.8 1320,879 1320.7,879.5 1321.3,881.6 1321.9,882.2 1322.5,885.1 1323.3,890.4 1324,896.4 1324.8,888.7 1325.6,881.4 1326.3,881.4 1327.1,879.7 1327.8,880.4 1328.4,878.5 1329.1,878.6 1329.7,878.5 1330.3,877 1330.9,875.3 1331.6,875.7 1332.2,877.1 1332.8,879.5 1333.4,879.5 1334.1,880.5 1334.7,882.1 1335.3,882.3 1336,883.3 1336.7,883.3 1337.4,883.5 1338.1,882.3 1338.9,881.8 1339.8,882.2 1340.6,881.4 1341.2,877.4 1341.8,876.9 1342.4,872.9 1343.2,871.6 1343.9,871 1344.7,870.1 1345.3,872.2 1345.9,871.3 1346.6,872.9 1347.2,876.6 1347.8,881.4 1348.5,885.1 1349.6,899.2 1350.4,894.1 1351.3,888.9 1351.9,882.3 1352.6,876.7 1353.4,874.9 1354.2,875.6 1355,875.7 1355.6,873 1356.3,874.2 1356.9,872 1357.5,869.5 1358.1,868.2 1358.8,867.3 1359.4,869.5 1360,872.3 1360.7,874.8 1361.3,876.2 1361.9,878.3 1362.5,879.5 1363.3,882.8 1364.2,884.9 1365,887.9 1365.7,885.2 1366.5,886.2 1367.2,883.2 1367.9,883.3 1368.6,881.1 1369.3,881.7 1370,881.4 1370.7,880.9 1371.3,880.3 1371.9,877.6 1372.5,875.7 1373.2,874.9 1373.8,875.7 1374.4,877.9 1375,879.9 1375.7,882.3 1376.3,889.8 1377,896.4 1377.5,928.3 1378.4,929.3 1379.2,927.8 1380,928.3 1380.6,926.5 1381.2,925.4 1381.9,923.6 1382.5,924.7 1383.1,922.7 1383.8,923.3 1384.4,922.4 1385.1,923.6 1385.9,923.7 1386.7,921.5 1387.5,922.7 1388.2,913.8 1388.8,903.9 1389.5,894.5 1390.1,885.1 1390.9,879.6 1391.6,873.9 1392.4,872.9 1393.1,873.7 1393.9,874.8 1394.5,872.5 1395.1,871.5 1395.8,868.2 1396.6,864 1397.4,858.8 1398.2,855.1 1398.8,859.4 1399.4,862.8 1400.1,866.3 1400.7,867.4 1401.3,867.3 1401.9,869.2 1402.8,869.8 1403.6,872.9 1404.4,872.9 1405.1,871.2 1405.9,871.8 1406.6,871 1407.4,870.5 1408.1,868.7 1408.9,868.2 1409.7,869.7 1410.5,870.7 1411.3,870.1 1412.1,868.7 1413,865.8 1413.8,862.6 1414.4,859.8 1415,857.5 1415.6,857 1416.3,858 1416.9,858.9 1417.5,860.7 1418.3,894.5 1419.1,893 1419.9,894.4 1420.7,892.6 1421.3,888.3 1422,886.7 1422.6,882.3 1423.2,885.2 1423.8,884.3 1424.5,887 1425.1,887 1425.7,884.2 1426.3,883.2 1427,885.8 1427.6,889.2 1428.2,893.6 1428.9,895.6 1429.5,900.4 1430.1,903.9 1430.8,902.1 1431.5,902.1 1432.2,900.7 1432.9,898.3 1433.5,890.8 1434.2,884.4 1434.8,877.6 1435.5,870 1436.3,862.6 1437,860.1 1437.8,858.7 1438.5,857.9 1439.3,858.1 1440,860.4 1440.7,860.2 1441.4,861.7 1442.1,861.2 1442.8,862.2 1443.5,863.6 1444.2,864.5 1444.8,865.6 1445.4,865.6 1446.1,867.3 1446.7,864.4 1447.3,859.5 1447.9,857 1448.6,857.2 1449.3,856.7 1450,856 1450,857 1450.6,858.6 1451.3,862.8 1451.9,864.5 1452.5,860.8 1453.1,857.8 1453.8,854.2 1454.4,854.8 1455,855.2 1455.6,855.1 1456.3,855.9 1456.9,855.7 1457.5,858 1458.1,860.7 1458.8,862.8 1459.4,863.6 1460.3,898.3 1461,898.3 1461.7,898.6 1462.4,897.6 1463.1,898.3 1463.8,898.6 1464.5,897 1465.3,894.7 1466,894.6 1466.6,896.8 1467.2,898.5 1467.8,898.3 1468.5,899.1 1469.1,902.3 1469.7,902.1 1470.3,901.4 1471,899.9 1471.6,900.2 1472.2,897.6 1472.9,893.6 1473.7,892.5 1474.5,893.1 1475.3,891.8 1476.2,891.4 1477,889.3 1477.8,889.9 1478.5,890.6 1479.3,892.2 1480,891.8 1480.8,891.7 1481.5,891.9 1482.3,891.8 1482.8,864.5 1483.7,865.6 1484.5,864.4 1485.3,864.5 1485.9,864.2 1486.5,864.2 1487.2,863.6 1487.8,861.3 1488.5,857 1489.1,856.8 1489.7,857.1 1490.4,858.9 1491.2,861.2 1492,862.2 1492.8,863.6 1493.4,864.6 1494,867.9 1494.7,868.3 1495.3,871.3 1496,872 1496.6,870.6 1497.2,870.4 1497.9,867.3 1498.5,872.1 1499.2,874.9 1499.8,875.3 1500.4,873.6 1501.1,873.9 1501.8,869.6 1502.6,868.3 1503.3,867.6 1504.1,866.5 1504.8,864.5 1505.9,871.1 1506.7,886.1 1507.5,885.7 1508.3,886.1 1509.1,886.1 1509.9,886 1510.8,884.7 1511.6,885.2 1512.3,884.5 1513.1,882.9 1513.8,881.4 1514.5,889.7 1515.1,898.3 1516.1,885.2 1516.8,880.7 1517.6,878.6 1518.3,876.4 1519.1,873.9 1519.7,872.4 1520.4,872 1521.3,851.4 1522.3,840.1 1522.9,840.3 1523.6,839.2 1524.2,841 1524.8,844.5 1525.5,847.6 1526.1,847 1526.7,848 1527.3,848.6 1528,845.7 1528.6,841.1 1529.2,839.2 1530.3,849.5 1531,850.1 1531.7,853.3 1532.3,852.3 1532.9,850.5 1533.5,850.5 1534.3,850.8 1535.2,850.1 1536,851.4 1536.7,851.1 1537.5,853.4 1538.2,854.2 1538.9,854.8 1539.6,853.9 1540.3,852.1 1541,851.4 1541.7,852.3 1542.3,852.6 1542.9,855.1 1543.5,852.9 1544.2,851.5 1544.8,850.5 1545.4,852.2 1546.1,851.4 1546.7,870.2 1547.6,885.2 1548.2,882.8 1548.9,884 1549.5,881.4 1550.2,881 1551,880.6 1551.7,880.5 1552.5,883.1 1553.2,887.1 1554.2,896.4 1554.8,896 1555.4,891.7 1556.1,890.8 1556.7,893.8 1557.4,896.4 1558.5,903 1559.2,899.8 1559.8,896.4 1560.6,894.9 1561.4,894.4 1562.2,894.6 1563.2,877.7 1564.1,870.2 1564.9,870.7 1565.6,869.2 1566.4,867.3 1567,863.9 1567.6,860.3 1568.3,856.1 1568.9,857.4 1569.5,861.7 1570.1,863.6 1570.8,862.5 1571.4,859 1572,858 1572.6,859.7 1573.3,863.1 1573.9,863.6 1574.6,863.4 1575.4,865 1576.1,864.5 1576.8,862.9 1577.4,863.8 1578,862.7 1578.6,863.2 1579.3,865.2 1579.9,866.4 1580.6,867.3 1581.3,870 1582,870.2 1582.9,862.7 1583.6,859.6 1584.2,855.1 1585,854.8 1585.8,855.1 1586.6,854.2 1587.4,854.3 1588.2,855.7 1588.9,855.1 1589.7,851.9 1590.4,850.3 1591.2,847.6 1591.8,848.5 1592.4,848.6 1593,849.5 1593.8,847.8 1594.7,847.9 1595.5,848.6 1596.1,847.4 1596.7,844.6 1597.3,843.9 1598,845.9 1598.6,846.4 1599.2,847.6 1599.9,847.1 1600.5,844.9 1601.1,842 1601.7,844.6 1602.4,845.4 1603,847.6 1603.6,844.9 1604.3,844.8 1605.4,862.7 1606.4,851.4 1607,847.8 1607.7,843.9 1608.4,844.9 1609.1,845.6 1609.8,843.7 1610.5,844.8 1611.2,843.8 1611.9,846.3 1612.6,845.5 1613.3,844.8 1613.9,843.8 1614.6,843.7 1615.2,842 1615.8,842.2 1616.4,844.6 1617.1,845.8 1617.8,847.7 1618.5,848.9 1619.2,849 1619.9,851.4 1620.5,848.1 1621.1,847.4 1621.8,844.8 1622.5,846.2 1623.2,844.2 1623.9,844 1624.6,845.8 1625.3,837.8 1626.1,830.7 1626.7,832.5 1627.3,832.3 1627.9,833.6 1628.6,833.1 1629.2,834.4 1629.8,832.6 1630.5,840.7 1631.1,848.6 1631.8,839.4 1632.4,830.7 1633.1,829.8 1633.7,826.1 1634.3,826.1 1635.1,823.1 1635.8,821.4 1636.5,821.6 1637.1,819.7 1637.7,820.4 1638.5,819.6 1639.2,821.7 1640,822.3 1640.7,827.3 1641.5,832.6 1642.1,834.7 1642.7,832.7 1643.3,834.5 1644,837 1644.6,837.3 1645.2,839.2 1646,836.8 1646.7,832.6 1647.5,833.1 1648.2,834.4 1649,834.5 1649.6,834.6 1650.2,834.9 1650.8,836.4 1651.5,835 1652.1,834.8 1652.7,832.6 1653.5,832.5 1654.2,832.4 1655,833.6 1655.7,836.6 1656.5,840.1 1657.2,843.1 1658,848.6 1658.6,849 1659.2,850.7 1659.9,851.4 1660.7,852.5 1661.5,853.3 1662.3,849.8 1663,845.8 1663.7,843.7 1664.4,842.9 1665.2,841.8 1666,842.2 1666.8,843.9 1667.4,842.8 1668.1,841.7 1668.7,842 1669.5,842.5 1670.3,841.9 1671.1,842.9 1671.9,870.2 1672.6,895.5 1673.4,870.2 1673.9,827.9 1674.7,828.4 1675.4,827.6 1676.2,827 1677,827.2 1677.8,827.1 1678.6,826.1 1679.3,827.7 1679.9,829 1680.5,830.7 1681.3,830.5 1682,830.1 1682.8,831.7 1683.5,832.3 1684.2,831.2 1684.9,829.8 1685.6,830.7 1686.2,833.9 1686.8,834.7 1687.4,836.4 1688.1,840.5 1688.8,843.9 1689.5,839.9 1690.3,836.4 1690.9,831.9 1691.5,828.8 1692.1,824.2 1692.9,827.4 1693.6,832.6 1694.3,836 1695,840.1 1695.6,838.8 1696.3,834.5 1697,836.2 1697.8,840.1 1698.4,842 1699,843.8 1699.6,845.8 1700.3,847.5 1700.9,852 1701.5,853.3 1702.3,857.2 1703,861.7 1703.7,857.7 1704.3,856.6 1704.9,854.2 1705.7,853 1706.4,855.5 1707.2,855.1 1707.9,855.6 1708.7,855.1 1709.4,853.3 1710,852.5 1710.7,855 1711.3,855.1 1712.1,857.1 1712.9,860.1 1713.7,862.7 1714.4,858.2 1715,854.2 1715.8,849.9 1716.5,846.7 1717.3,844.2 1718,843.9 1718.7,841 1719.4,837.3 1720,837.3 1720.6,841.2 1721.2,841.1 1722,840 1722.9,843.1 1723.7,842 1724.4,841.4 1725.2,841.4 1725.9,842.9 1726.6,844 1727.2,843.7 1727.8,843.9 1728.4,845.9 1729.1,846.4 1729.7,847.6 1730.4,844.3 1731.2,840.1 1731.8,837.9 1732.4,838.8 1733.1,837.3 1733.8,838 1734.6,840 1735.3,839.2 1736.1,836.8 1736.8,837.3 1737.6,821.4 1738.1,807.3 1738.8,807.9 1739.4,811.6 1740,812.9 1740.6,812.6 1741.3,809.6 1741.9,808.2 1742.5,808.2 1743.1,807.2 1743.8,806.3 1744.4,805.4 1745,805 1745.6,804.5 1746.3,805.4 1746.9,804.3 1747.5,806.3 1748.1,806.7 1748.8,808.9 1749.4,809.2 1750,809.4 1750.6,811 1751.3,812 1751.9,813.4 1752.5,815.9 1753.1,818.5 1753.8,815.7 1754.5,812 1755.1,811.8 1755.7,811.5 1756.3,809.2 1757,809.1 1757.6,808.3 1758.2,809.2 1759,810.5 1759.7,812.9 1760.5,813 1761.2,815.7 1762,828.9 1762.7,831.8 1763.5,836.4 1764.1,839.1 1764.7,841.7 1765.3,843.9 1766,845.6 1766.6,847.9 1767.2,851.4 1768.2,870.2 1768.7,879.5 1769.3,877.4 1770,876.7 1770.6,876.7 1771.4,874.5 1772.1,871.6 1772.9,870.2 1773.5,872.9 1774.1,873.5 1774.7,874.9 1775.5,874.4 1776.2,874.7 1777,874.9 1777.7,865.4 1778.5,857 1779.2,862 1780,866.4 1780.6,869 1781.3,870.2 1781.9,868.5 1782.6,868.3 1783.2,866.4 1783.8,864.5 1784.4,863.1 1785.1,862.7 1785.7,860 1786.3,858 1786.9,857 1787.6,856.4 1788.2,855.6 1788.8,854.2 1789.4,857.1 1790.1,857.4 1790.7,860.8 1791.3,863.1 1791.9,863.8 1792.6,865.5 1793.2,868.4 1793.9,872 1794.7,872.1 1795.5,871.8 1796.3,872 1796.9,868.6 1797.6,866.7 1798.2,864.5 1799,862.8 1799.8,860.8 1800.6,858 1801.3,859.5 1801.9,857.7 1802.5,858.9 1803.1,859.4 1803.8,858.6 1804.4,857 1805,858 1805.6,859.1 1806.3,858 1807.2,877.7 1808.1,840.1 1808.9,824.2 1809.7,822.8 1810.5,824.4 1811.3,823.2 1812,824 1812.7,821.2 1813.4,822.1 1814.1,821.4 1814.9,822 1815.6,819.3 1816.3,820.3 1817,818.5 1817.8,821 1818.6,820.9 1819.4,822.3 1820.1,824.5 1820.7,828.9 1821.3,829.3 1822,832.4 1822.6,832.6 1823.3,832.4 1824,832.1 1824.7,832.5 1825.4,832.6 1826.1,833.2 1826.8,830.5 1827.5,829.1 1828.2,829.8 1828.9,832.7 1829.5,832.4 1830.1,834.5 1830.8,833.7 1831.5,835 1832.2,832.4 1832.9,832.6 1833.6,832.8 1834.3,836.6 1835,836.1 1835.7,838.3 1836.4,837.2 1837.1,839.1 1837.8,836.7 1838.5,837.3 1839.3,837.6 1840,834.9 1840.7,833.9 1841.4,833.6 1842,828.1 1842.7,823.2 1843.4,823.4 1844.2,823.2 1844.9,846.8 1845.7,870.2 1846.1,969.6 1846.6,870.2 1847.6,813.9 1848.2,817.3 1848.9,821.4 1850,822.3 1850,820.1 1850.6,817.7 1851.3,814.5 1851.9,812.6 1852.5,813.3 1853.1,813.3 1853.8,811.7 1854.4,814.6 1855,817 1855.6,818.3 1856.4,814.5 1857.1,812.5 1857.9,810.7 1859,835.1 1859.7,831.4 1860.3,829.5 1860.9,826.6 1861.6,827.2 1862.2,823.9 1862.8,827 1863.5,828.9 1864.1,829.5 1864.7,827.8 1865.3,824.6 1866,823.9 1866.6,822.4 1867.2,820.1 1867.8,820.1 1868.5,820.7 1869.1,818.2 1869.7,818.3 1870.4,822.7 1871,827.6 1871.8,832.7 1872.5,835.1 1873.2,836.8 1873.8,841.4 1874.4,842.7 1875,844 1875.7,846.9 1876.3,848.3 1877,849 1877.8,852 1878.4,846.9 1879.1,840.8 1879.7,842 1880.3,843.4 1881,845.5 1881.8,845.6 1882.6,845.1 1883.4,844.5 1884,839.9 1884.7,835.3 1885.3,831.4 1885.9,837.1 1886.6,842.7 1887.4,844 1888.1,848.3 1888.8,846.6 1889.4,842.7 1890,802.3 1890.7,800.9 1891.5,799.4 1892.2,799.5 1893,798.3 1893.9,797.1 1894.7,797.6 1895.4,797.1 1896.2,797.7 1896.9,797.6 1897.7,800.1 1898.4,803.2 1899.2,803.1 1899.9,803.2 1900.7,804.2 1901.3,804.4 1901.9,805.6 1902.6,805.1 1903.5,812.6 1904.1,811.8 1904.7,812.2 1905.4,810.7 1906,805.1 1906.7,799.5 1907.4,799.8 1908.2,802.3 1908.9,807.5 1909.7,813.6 1910.3,809.8 1911,805.1 1911.7,802.7 1912.3,800.4 1913.1,804.3 1913.8,808.9 1914.4,814.5 1915.1,820.5 1915.7,825.8 1916.4,831.2 1917,837 1917.8,836.1 1918.5,836.1 1919.1,833.5 1919.8,830.2 1920.4,829.5 1921,828.1 1921.6,826.3 1922.3,824.8 1922.9,825.1 1923.5,825.3 1924.1,825.8 1924.8,830 1925.5,834.2 1926.2,831.6 1927,827.6 1927.6,826.4 1928.2,828.5 1928.8,826.7 1929.5,827.7 1930.1,832.2 1930.7,833.3 1931.3,831 1932,831.7 1932.6,829.5 1933.2,829.4 1933.8,829.5 1934.5,831.4 1935.2,835.7 1936,839.8 1936.6,837.6 1937.3,833.3 1937.9,834.3 1938.5,834.4 1939.2,833.3 1939.8,835 1940.4,832.6 1941,834.2 1941.4,880.2 1941.6,927.1 1942.3,928.6 1942.9,930.9 1943.7,931.1 1944.4,933.7 1945.3,927.9 1946.1,921.5 1946.9,923.2 1947.6,925.2 1948.2,927.9 1948.9,929.9 1949.5,930.9 1950.2,935.2 1951,936.5 1951.7,887.7 1952.3,836.1 1953,836.1 1953.6,835.1 1954.2,811.7 1954.8,814.4 1955.4,815 1956.1,816.4 1956.7,814.2 1957.4,814.5 1958.1,811.9 1958.9,807 1959.5,805.5 1960.1,805.1 1960.7,806.1 1961.4,806.7 1962,804.8 1962.6,805.1 1963.4,806.2 1964.1,805 1964.9,807 1965.6,808 1966.4,810.7 1967,813.3 1967.6,813.1 1968.3,816.4 1969,816.4 1969.8,817.7 1970.5,816.4 1971.6,803.2 1972.3,802.1 1972.9,803.2 1973.5,802.3 1974.1,803.7 1974.8,803.9 1975.4,804.2 1976.1,805.6 1976.9,806 1977.6,806.1 1978.4,804.3 1979.1,804.5 1979.9,805.1 1980.7,805.2 1981.5,806.5 1982.3,805.1 1982.9,838 1983.6,837.1 1984.4,838.2 1985.1,838 1985.9,835.9 1986.6,837.1 1987.4,835.1 1988.2,834.4 1989,834 1989.8,833.3 1990.5,834.1 1991.1,832.8 1991.7,834.2 1992.3,836.8 1993,838.9 1993.6,839.8 1994.2,840.6 1994.8,838.6 1995.5,838.9 1996.1,835.3 1996.8,833.3 1997.5,830.4 1998.3,829.5 1999.2,812.6 2000,810.5 2000.7,806.1 2001.6,806.8 2002.4,807.9 2003.2,809.5 2003.9,811.7 2004.5,813.3 2005.2,815.4 2005.8,816.4 2006.4,816.5 2007,817.1 2007.7,818.3 2008.3,817.5 2008.9,816 2009.5,813.6 2010.3,818.5 2011.1,823.9 2011.7,821.7 2012.4,822 2013,817.4 2013.7,811.7 2014.4,810 2015.2,807 2015.9,805.1 2016.7,802.3 2017.4,800.4 2018.2,805.6 2018.9,807.9 2019.7,808.2 2020.4,808.9 2021.2,892.4 2022.3,891.5 2023.1,812.6 2023.8,810.8 2024.6,810.7 2025.2,810.2 2025.8,811.6 2026.4,812.6 2027.1,814.8 2027.7,816 2028.3,818.3 2028.9,817.7 2029.6,814.9 2030.2,812.6 2030.9,812.2 2031.7,812.5 2032.4,811.7 2033.2,822.6 2034,833.3 2034.7,834.1 2035.5,834.2 2036.2,831.4 2037,828.6 2037.7,825.8 2038.5,828.2 2039.2,831.8 2040,833.3 2040.7,828.2 2041.5,823.9 2042.2,821.9 2043,818.3 2043.7,817.6 2044.5,819.3 2045.2,818.3 2046.2,840.8 2046.8,841.1 2047.4,843.9 2048,845.5 2048.7,845.6 2049.3,846.7 2049.9,846.4 2050.5,843.3 2051.2,841.3 2051.8,839.8 2052.4,838.1 2053,838.8 2053.7,838 2054.4,838.4 2055.1,836.9 2055.8,837.7 2056.5,838.9 2057.2,837.7 2058,839.6 2058.7,838 2059.5,839.2 2060.2,840.8 2061.2,868.9 2061.8,870.7 2062.4,871.4 2063,873.6 2063.7,873.6 2064.4,872.7 2064.9,827.6 2065.5,827.3 2066.2,825.7 2066.8,823.9 2067.4,822.1 2068.1,823.1 2068.7,822.9 2069.3,823.5 2069.9,822.8 2070.6,824.8 2071.2,828.5 2071.8,829.9 2072.4,833.3 2073.1,834.5 2073.7,837.4 2074.3,838.9 2074.9,839.5 2075.6,839.5 2076.2,839.8 2076.8,842.5 2077.4,843 2078.1,844.5 2078.7,842.5 2079.3,840.1 2079.9,839.8 2080.6,831.9 2081.3,823.9 2081.9,822.9 2082.5,822.7 2083.1,822 2083.9,824.4 2084.6,827.6 2085.4,828 2086.1,831.4 2086.9,830.6 2087.6,831.6 2088.4,833.3 2089.1,832.5 2089.8,835.3 2090.5,834.9 2091.2,835.1 2091.9,835.1 2092.6,837.2 2093.3,837.7 2094,838 2094.7,837.4 2095.4,840.1 2096.1,839.3 2096.8,840.8 2097.5,840.1 2098.1,835.3 2098.7,834.2 2099.3,833.9 2100,834.1 2100.6,835.1 2101.2,840.9 2101.8,846.2 2102.5,851.1 2103.4,820.1 2104,819.1 2104.7,816.6 2105.3,816.4 2106.2,792 2106.9,799.4 2107.5,807 2108.3,799.7 2109,792 2109.8,799.4 2110.5,807.9 2111.2,801.4 2111.8,793.9 2112.6,794.2 2113.3,793.7 2114,792.3 2114.7,791 2115.4,791.6 2116.1,792.9 2116.8,791 2117.5,792 2118.2,791.9 2118.9,791.8 2119.6,792.4 2120.3,793.9 2120.9,793.5 2121.5,790.1 2122.2,790.1 2122.9,790.4 2123.6,788.8 2124.3,789.8 2125,788.2 2125.8,790.3 2126.6,791.3 2127.4,792 2128.2,795.5 2128.9,795.6 2129.7,799.5 2130.3,803.6 2130.9,808.1 2131.6,812.6 2132.2,807.5 2132.8,802.8 2133.4,797.6 2134.1,798.3 2134.8,797.4 2135.5,797.5 2136.3,795.7 2136.9,799.7 2137.5,803.1 2138.1,807 2138.8,805.5 2139.4,804.6 2140,802.3 2140.8,802.6 2141.6,800.7 2142.4,800.4 2143.2,799 2143.9,798.9 2144.7,797.6 2145.4,796.8 2146.1,798.8 2146.8,796.1 2147.5,797.6 2148.2,796.6 2148.9,794.7 2149.6,792.5 2150.3,792 2151,792.7 2151.7,792.8 2152.4,794.8 2153.1,793.9 2153.8,795.7 2154.6,795.5 2155.3,797.1 2156,796.7 2156.5,861.4 2156.9,899.9 2157.6,900.6 2158.2,899 2159.3,863.3 2160,860.4 2160.6,860.5 2161.2,857.7 2162,859.9 2162.7,861.6 2163.5,861.4 2164.1,861 2164.7,858.6 2165.3,857.7 2166,856.3 2166.8,857.2 2167.5,855.4 2168.2,855.8 2169.1,820.1 2169.7,819.7 2170.4,817.9 2171,816.4 2171.9,799.5 2172.6,798.6 2173.2,795.7 2174.4,808.9 2175.1,807.8 2175.9,807 2176.6,807 2177.2,803.1 2177.9,798.4 2178.5,793.9 2179.2,794.7 2180,796.5 2180.7,797.6 2181.6,799 2182.4,801.2 2183.2,802.3 2183.8,803.3 2184.4,803.5 2185.1,805.1 2185.7,810.4 2186.4,814.5 2187.1,816.1 2187.9,815.4 2188.6,804 2189.4,792 2190.1,792.6 2190.9,793.6 2191.6,795.7 2192.4,795.8 2193.1,795.4 2193.9,793.9 2194.7,796.8 2195.5,798 2196.3,801.4 2196.9,801.1 2197.6,799.6 2198.2,798.5 2199.5,801.4 2200.4,801 2200.4,1609" fill="none" stroke="#0a70e3" stroke-width="3.7" stroke-linejoin="round" stroke-linecap="round"/>
<line x1="495.1" y1="1605.7" x2="495.1" y2="52.4" stroke="#0a70e3" stroke-width="5.8" stroke-dasharray="37.2,14.8,10,14.5"/>
<line x1="877.4" y1="1605" x2="877.4" y2="48.7" stroke="#ff3838" stroke-width="5.8" stroke-dasharray="37.2,14.8,10,14.5"/>
<line x1="907.2" y1="1588" x2="907.2" y2="47.7" stroke="#505050" stroke-width="5.8" stroke-dasharray="37.2,14.8,10,14.5"/>
<text transform="translate(259.9,1692.6) scale(1,1.03)" font-size="67" text-anchor="middle" letter-spacing="0.3">0</text>
<text transform="translate(475.5,1692.6) scale(1,1.03)" font-size="67" text-anchor="middle" letter-spacing="0.3">200</text>
<text transform="translate(691.1,1692.6) scale(1,1.03)" font-size="67" text-anchor="middle" letter-spacing="0.3">400</text>
<text transform="translate(906.6,1692.6) scale(1,1.03)" font-size="67" text-anchor="middle" letter-spacing="0.3">600</text>
<text transform="translate(1122.2,1692.6) scale(1,1.03)" font-size="67" text-anchor="middle" letter-spacing="0.3">800</text>
<text transform="translate(1340.2,1692.6) scale(1,1.03)" font-size="67" text-anchor="middle" letter-spacing="-0.6">1000</text>
<text transform="translate(1555.8,1692.6) scale(1,1.03)" font-size="67" text-anchor="middle" letter-spacing="-0.6">1200</text>
<text transform="translate(1771.3,1692.6) scale(1,1.03)" font-size="67" text-anchor="middle" letter-spacing="-0.6">1400</text>
<text transform="translate(1986.9,1692.6) scale(1,1.03)" font-size="67" text-anchor="middle" letter-spacing="-0.6">1600</text>
<text transform="translate(2202.5,1692.6) scale(1,1.03)" font-size="67" text-anchor="middle" letter-spacing="-0.6">1800</text>
<text transform="translate(225.5,1628.2) scale(1,1.03)" font-size="67" text-anchor="end" letter-spacing="-0.6">0.00</text>
<text transform="translate(225.5,1454.5) scale(1,1.03)" font-size="67" text-anchor="end" letter-spacing="-0.6">0.05</text>
<text transform="translate(225.5,1280.8) scale(1,1.03)" font-size="67" text-anchor="end" letter-spacing="-0.6">0.10</text>
<text transform="translate(225.5,1107.1) scale(1,1.03)" font-size="67" text-anchor="end" letter-spacing="-0.6">0.15</text>
<text transform="translate(225.5,933.4) scale(1,1.03)" font-size="67" text-anchor="end" letter-spacing="-0.6">0.20</text>
<text transform="translate(225.5,759.8) scale(1,1.03)" font-size="67" text-anchor="end" letter-spacing="-0.6">0.25</text>
<text transform="translate(225.5,586.1) scale(1,1.03)" font-size="67" text-anchor="end" letter-spacing="-0.6">0.30</text>
<text transform="translate(225.5,412.4) scale(1,1.03)" font-size="67" text-anchor="end" letter-spacing="-0.6">0.35</text>
<text transform="translate(225.5,238.7) scale(1,1.03)" font-size="67" text-anchor="end" letter-spacing="-0.6">0.40</text>
<text transform="translate(225.5,65.0) scale(1,1.03)" font-size="67" text-anchor="end" letter-spacing="-0.6">0.45</text>
<text transform="translate(1231.5,1820.3) scale(1,1.015)" font-size="81.4" text-anchor="middle">Sliding time (s)</text>
<text transform="translate(77.5,826.5) rotate(-90) scale(1,1.015)" font-size="81.7" text-anchor="middle">Friction coefficient</text>
<line x1="1571" y1="103" x2="1752.3" y2="103" stroke="#505050" stroke-width="9.8" stroke-linecap="round"/>
<text transform="translate(1772.0,130.9) scale(1,1.02)" font-size="81.2">120 mm/min</text>
<line x1="1571" y1="203" x2="1752.3" y2="203" stroke="#ff3838" stroke-width="9.8" stroke-linecap="round"/>
<text transform="translate(1772.0,230.5) scale(1,1.02)" font-size="81.2">180 mm/min</text>
<line x1="1571" y1="303.6" x2="1752.3" y2="303.6" stroke="#0a70e3" stroke-width="9.8" stroke-linecap="round"/>
<text transform="translate(1772.0,329.7) scale(1,1.02)" font-size="81.2">240 mm/min</text>
<text transform="translate(1389.0,1103.5) scale(1,1.0)" font-size="67.2" font-weight="bold">Stable wear stage</text>
<text transform="translate(1097.0,1500.5) scale(1,1.0)" font-size="67.1" font-weight="bold">Wear running-in stage</text>
<line x1="840" y1="1474.5" x2="1092" y2="1474.5" stroke="#000" stroke-width="6.6"/>
<polygon points="793.5,1474.5 845.2,1461.7 845.2,1487.3" fill="#000"/>
</svg></body></html>
